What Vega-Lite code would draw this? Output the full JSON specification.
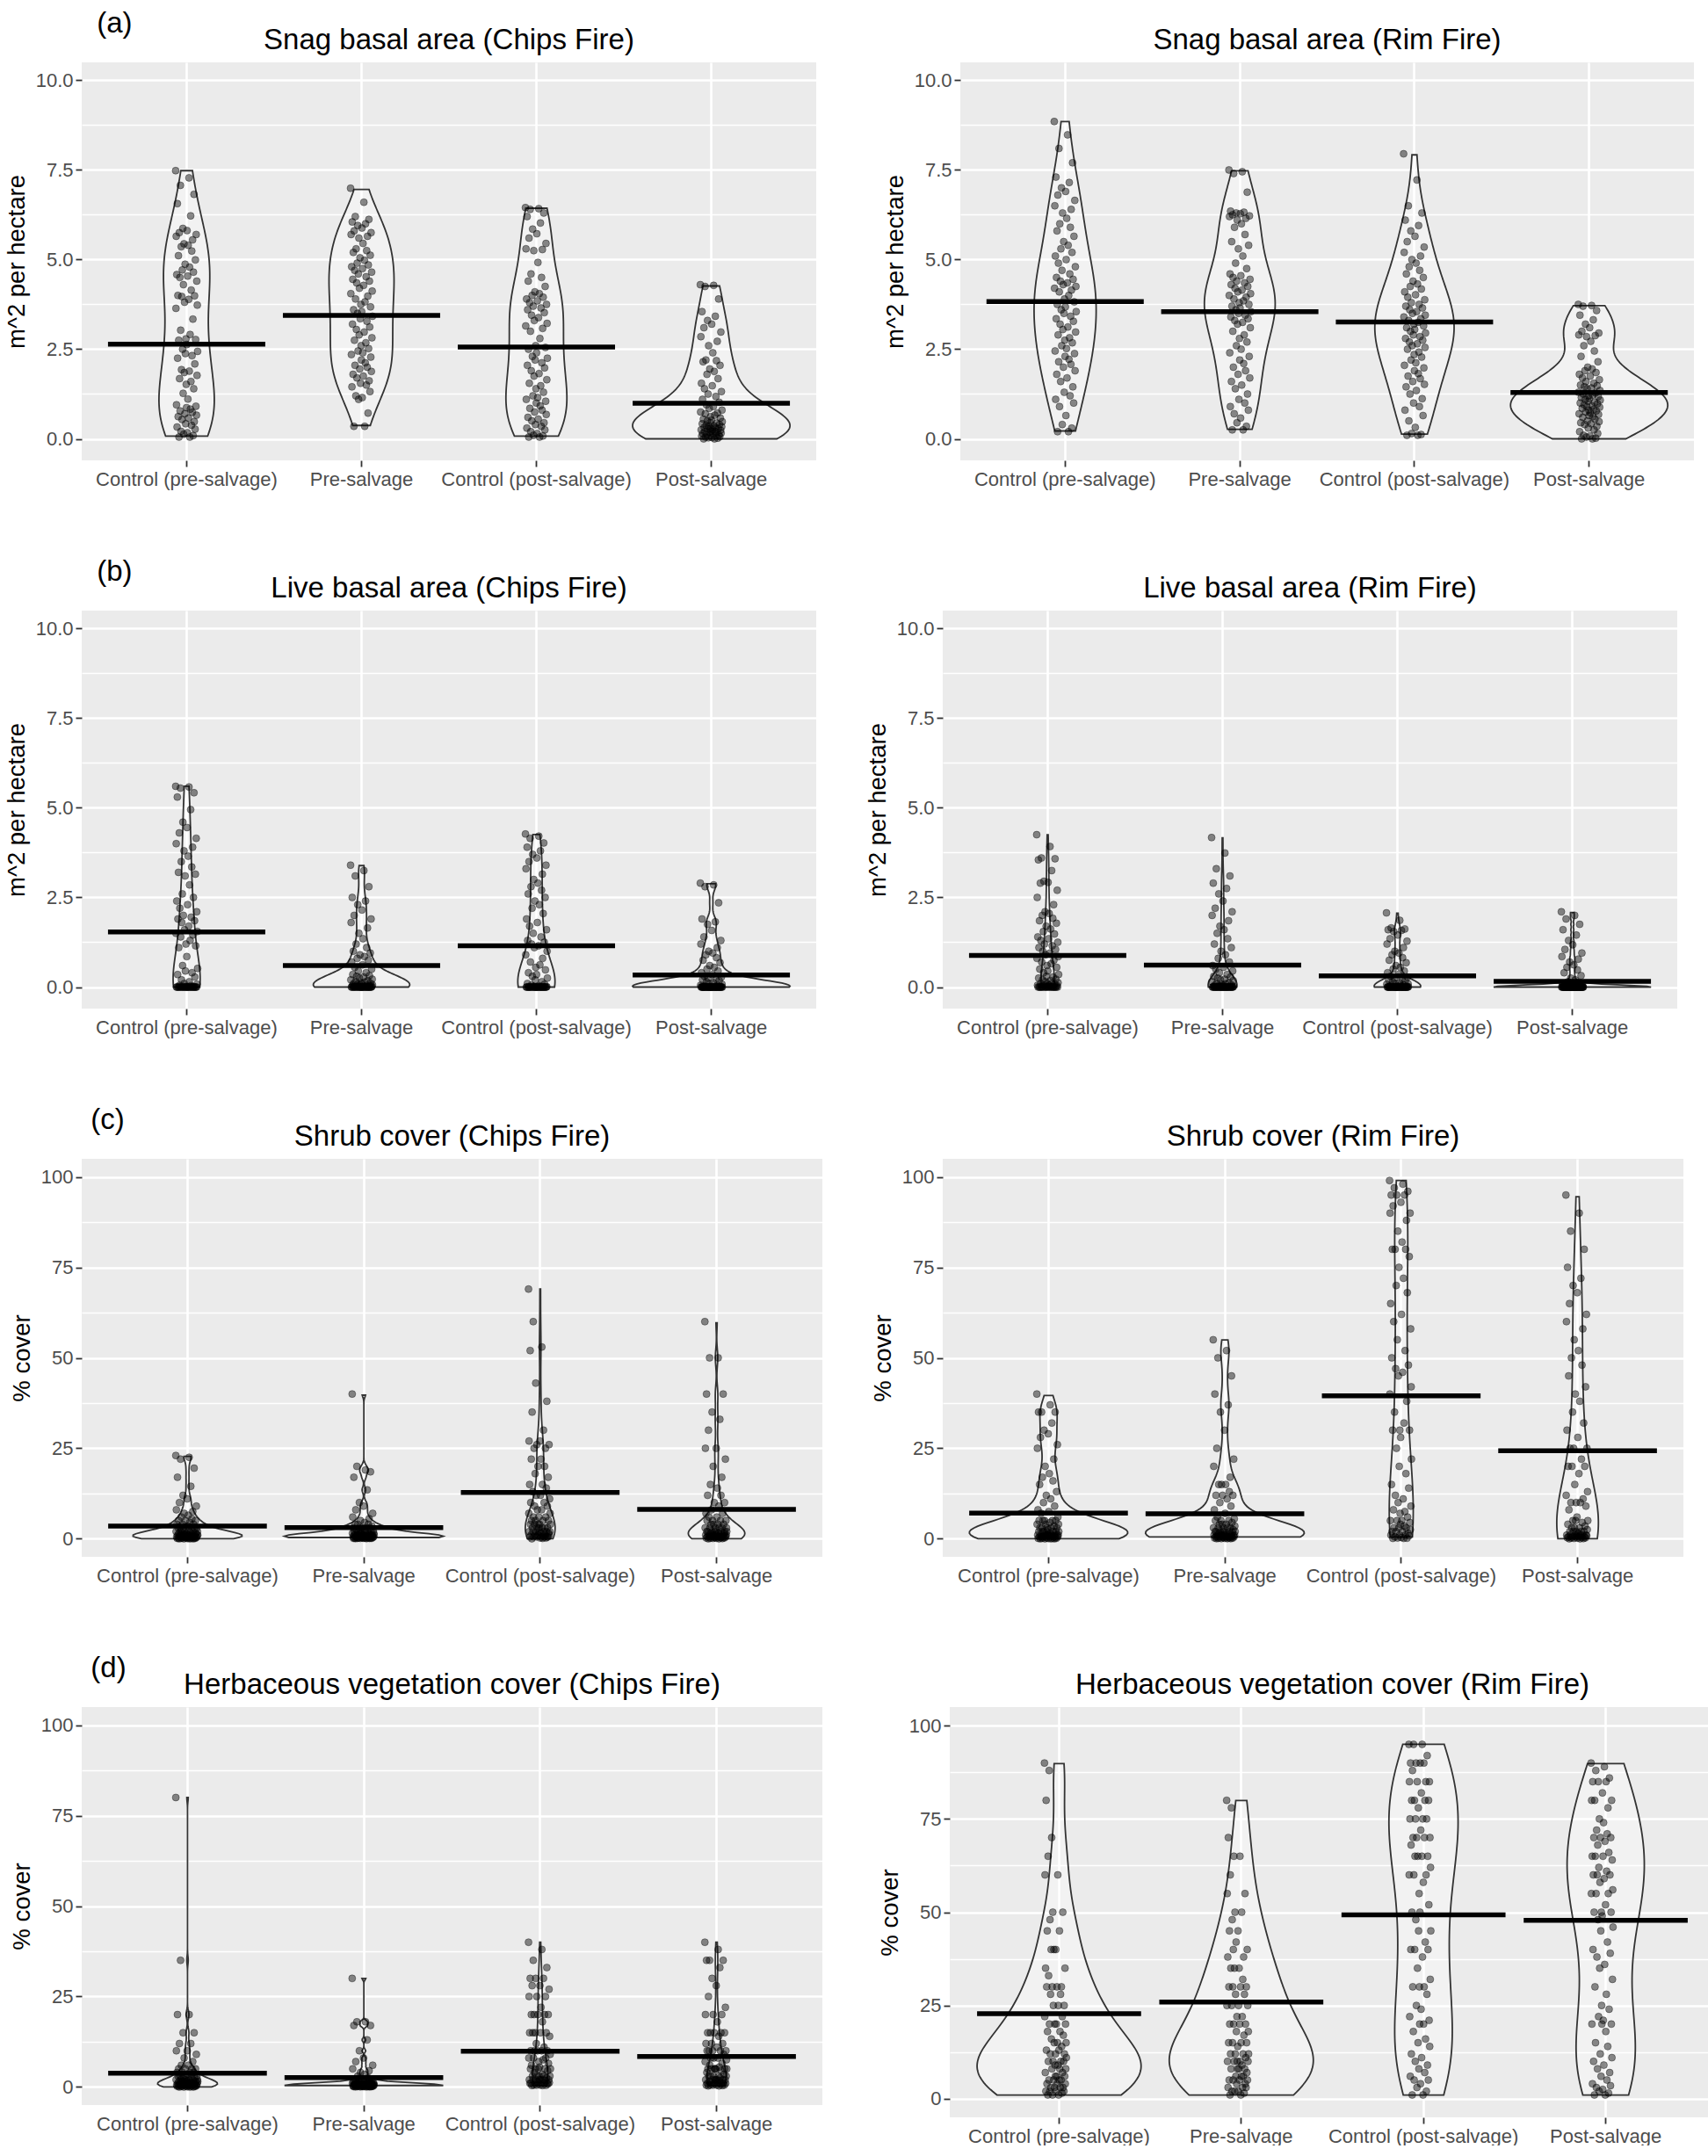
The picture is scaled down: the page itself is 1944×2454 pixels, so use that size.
{
"$schema": "https://vega.github.io/schema/vega-lite/v6.json",
"background": "white",
"padding": {"left": 5, "top": 11, "right": 0, "bottom": 0},
"config": {
 "font": "Liberation Sans",
 "view": {"fill": "#EBEBEB", "stroke": null},
 "axis": {"domain": false, "labelColor": "#4D4D4D", "labelFontSize": 22, "labelFont": "Liberation Sans", "tickColor": "#333333", "tickSize": 7, "tickWidth": 1.8, "gridColor": "#FFFFFF", "titleFont": "Liberation Sans", "titleFontSize": 27.5, "titleFontWeight": "normal", "titleColor": "#000000", "labelPadding": 3, "titlePadding": 7},
 "title": {"font": "Liberation Sans", "fontSize": 33, "fontWeight": "normal", "color": "#000000", "offset": 8}
},
"datasets": {
"a1": [
{"g":1,"v":7.48},{"g":1,"v":3.64},{"g":1,"v":5.65},{"g":1,"v":0.95},{"g":1,"v":4.58},{"g":1,"v":0.33},{"g":1,"v":6.56},{"g":1,"v":2.25},{"g":1,"v":4.0},{"g":1,"v":0.62},{"g":1,"v":5.11},{"g":1,"v":2.75},{"g":1,"v":0.05},{"g":1,"v":5.75},{"g":1,"v":1.68},{"g":1,"v":4.5},{"g":1,"v":0.78},{"g":1,"v":7.07},{"g":1,"v":3.03},{"g":1,"v":0.21},{"g":1,"v":5.36},{"g":1,"v":1.93},{"g":1,"v":3.97},{"g":1,"v":0.54},{"g":1,"v":4.71},{"g":1,"v":2.5},{"g":1,"v":5.87},{"g":1,"v":1.27},{"g":1,"v":4.3},{"g":1,"v":0.13},{"g":1,"v":5.44},{"g":1,"v":1.85},{"g":1,"v":3.81},{"g":1,"v":0.7},{"g":1,"v":4.87},{"g":1,"v":2.38},{"g":1,"v":0.42},{"g":1,"v":2.79},{"g":1,"v":1.52},{"g":1,"v":0.87},
{"g":2,"v":6.99},{"g":2,"v":4.05},{"g":2,"v":5.7},{"g":2,"v":2.35},{"g":2,"v":4.8},{"g":2,"v":1.45},{"g":2,"v":6.05},{"g":2,"v":3.2},{"g":2,"v":4.45},{"g":2,"v":1.8},{"g":2,"v":5.2},{"g":2,"v":3.6},{"g":2,"v":0.35},{"g":2,"v":5.8},{"g":2,"v":2.75},{"g":2,"v":4.7},{"g":2,"v":2.05},{"g":2,"v":6.2},{"g":2,"v":3.9},{"g":2,"v":1.2},{"g":2,"v":5.3},{"g":2,"v":3.05},{"g":2,"v":4.35},{"g":2,"v":1.7},{"g":2,"v":4.9},{"g":2,"v":3.5},{"g":2,"v":5.95},{"g":2,"v":2.45},{"g":2,"v":4.6},{"g":2,"v":1.1},{"g":2,"v":5.6},{"g":2,"v":2.9},{"g":2,"v":4.2},{"g":2,"v":1.95},{"g":2,"v":5.05},{"g":2,"v":3.35},{"g":2,"v":1.55},{"g":2,"v":3.75},{"g":2,"v":2.6},{"g":2,"v":2.2},
{"g":3,"v":6.45},{"g":3,"v":3.15},{"g":3,"v":5.3},{"g":3,"v":1.1},{"g":3,"v":3.9},{"g":3,"v":0.3},{"g":3,"v":6.2},{"g":3,"v":2.05},{"g":3,"v":3.6},{"g":3,"v":0.6},{"g":3,"v":4.4},{"g":3,"v":2.5},{"g":3,"v":0.05},{"g":3,"v":5.6},{"g":3,"v":1.55},{"g":3,"v":3.8},{"g":3,"v":0.85},{"g":3,"v":6.4},{"g":3,"v":3.0},{"g":3,"v":0.2},{"g":3,"v":4.6},{"g":3,"v":1.9},{"g":3,"v":3.45},{"g":3,"v":0.5},{"g":3,"v":4.0},{"g":3,"v":2.3},{"g":3,"v":5.85},{"g":3,"v":1.2},{"g":3,"v":3.7},{"g":3,"v":0.1},{"g":3,"v":5.25},{"g":3,"v":1.75},{"g":3,"v":3.3},{"g":3,"v":0.75},{"g":3,"v":4.1},{"g":3,"v":2.2},{"g":3,"v":0.4},{"g":3,"v":2.6},{"g":3,"v":1.4},{"g":3,"v":1.0},
{"g":4,"v":4.3},{"g":4,"v":0.75},{"g":4,"v":2.85},{"g":4,"v":0.25},{"g":4,"v":1.55},{"g":4,"v":0.08},{"g":4,"v":3.55},{"g":4,"v":0.42},{"g":4,"v":1.1},{"g":4,"v":0.15},{"g":4,"v":2.15},{"g":4,"v":0.55},{"g":4,"v":0.0},{"g":4,"v":3.1},{"g":4,"v":0.32},{"g":4,"v":1.4},{"g":4,"v":0.2},{"g":4,"v":4.25},{"g":4,"v":0.7},{"g":4,"v":0.05},{"g":4,"v":2.2},{"g":4,"v":0.38},{"g":4,"v":0.95},{"g":4,"v":0.12},{"g":4,"v":1.8},{"g":4,"v":0.5},{"g":4,"v":3.3},{"g":4,"v":0.28},{"g":4,"v":1.25},{"g":4,"v":0.03},{"g":4,"v":2.6},{"g":4,"v":0.35},{"g":4,"v":0.85},{"g":4,"v":0.18},{"g":4,"v":1.95},{"g":4,"v":0.45},{"g":4,"v":0.1},{"g":4,"v":0.62},{"g":4,"v":0.3},{"g":4,"v":0.22},
{"g":1,"v":2.63},{"g":1,"v":5.81},{"g":1,"v":0.17},{"g":1,"v":4.54},{"g":1,"v":1.11},{"g":1,"v":5.4},{"g":1,"v":0.58},{"g":1,"v":3.89},{"g":1,"v":7.28},{"g":1,"v":1.89},{"g":1,"v":4.79},{"g":1,"v":0.05},{"g":1,"v":2.91},{"g":1,"v":0.83},{"g":1,"v":6.22},{"g":1,"v":1.6},{"g":1,"v":4.15},{"g":1,"v":0.38},{"g":1,"v":5.24},{"g":1,"v":2.32},{"g":1,"v":0.74},{"g":1,"v":5.55},{"g":1,"v":3.34},{"g":1,"v":0.09},{"g":1,"v":4.65},{"g":1,"v":1.4},{"g":1,"v":6.82},{"g":1,"v":0.48},{"g":1,"v":3.99},{"g":1,"v":2.09},{"g":1,"v":0.27},{"g":1,"v":4.99},{"g":1,"v":2.77},{"g":1,"v":0.91},{"g":1,"v":5.7},{"g":1,"v":0.66},{"g":1,"v":4.4},{"g":1,"v":1.77},{"g":1,"v":3.73},{"g":1,"v":2.44},
{"g":2,"v":3.55},{"g":2,"v":5.88},{"g":2,"v":1.15},{"g":2,"v":4.75},{"g":2,"v":2.4},{"g":2,"v":5.45},{"g":2,"v":1.75},{"g":2,"v":4.28},{"g":2,"v":6.6},{"g":2,"v":2.98},{"g":2,"v":4.98},{"g":2,"v":0.35},{"g":2,"v":3.82},{"g":2,"v":2.12},{"g":2,"v":6.0},{"g":2,"v":2.68},{"g":2,"v":4.52},{"g":2,"v":1.5},{"g":2,"v":5.25},{"g":2,"v":3.28},{"g":2,"v":2.0},{"g":2,"v":5.65},{"g":2,"v":3.98},{"g":2,"v":0.72},{"g":2,"v":4.85},{"g":2,"v":2.52},{"g":2,"v":6.12},{"g":2,"v":1.62},{"g":2,"v":4.4},{"g":2,"v":3.12},{"g":2,"v":1.32},{"g":2,"v":5.12},{"g":2,"v":3.68},{"g":2,"v":2.28},{"g":2,"v":5.75},{"g":2,"v":1.88},{"g":2,"v":4.65},{"g":2,"v":2.82},{"g":2,"v":4.12},{"g":2,"v":3.42},
{"g":3,"v":2.4},{"g":3,"v":5.72},{"g":3,"v":0.15},{"g":3,"v":3.85},{"g":3,"v":1.15},{"g":3,"v":4.92},{"g":3,"v":0.55},{"g":3,"v":3.38},{"g":3,"v":6.42},{"g":3,"v":1.82},{"g":3,"v":4.05},{"g":3,"v":0.05},{"g":3,"v":2.8},{"g":3,"v":0.92},{"g":3,"v":6.02},{"g":3,"v":1.48},{"g":3,"v":3.65},{"g":3,"v":0.35},{"g":3,"v":4.5},{"g":3,"v":2.12},{"g":3,"v":0.8},{"g":3,"v":5.28},{"g":3,"v":3.08},{"g":3,"v":0.08},{"g":3,"v":3.95},{"g":3,"v":1.3},{"g":3,"v":6.3},{"g":3,"v":0.45},{"g":3,"v":3.52},{"g":3,"v":1.98},{"g":3,"v":0.25},{"g":3,"v":4.25},{"g":3,"v":2.55},{"g":3,"v":1.05},{"g":3,"v":5.45},{"g":3,"v":0.68},{"g":3,"v":3.75},{"g":3,"v":1.65},{"g":3,"v":3.22},{"g":3,"v":2.25},
{"g":4,"v":0.52},{"g":4,"v":3.2},{"g":4,"v":0.04},{"g":4,"v":1.48},{"g":4,"v":0.26},{"g":4,"v":2.4},{"g":4,"v":0.14},{"g":4,"v":0.9},{"g":4,"v":4.28},{"g":4,"v":0.36},{"g":4,"v":1.88},{"g":4,"v":0.0},{"g":4,"v":0.66},{"g":4,"v":0.21},{"g":4,"v":3.42},{"g":4,"v":0.31},{"g":4,"v":1.18},{"g":4,"v":0.09},{"g":4,"v":2.18},{"g":4,"v":0.44},{"g":4,"v":0.19},{"g":4,"v":2.72},{"g":4,"v":0.72},{"g":4,"v":0.02},{"g":4,"v":1.68},{"g":4,"v":0.29},{"g":4,"v":3.9},{"g":4,"v":0.11},{"g":4,"v":1.02},{"g":4,"v":0.4},{"g":4,"v":0.06},{"g":4,"v":2.05},{"g":4,"v":0.58},{"g":4,"v":0.24},{"g":4,"v":2.98},{"g":4,"v":0.16},{"g":4,"v":1.32},{"g":4,"v":0.34},{"g":4,"v":0.8},{"g":4,"v":0.48},
{"g":1,"m":2.64},{"g":2,"m":3.44},{"g":3,"m":2.56},{"g":4,"m":0.99}
],
"a2": [
{"g":1,"v":8.85},{"g":1,"v":4.2},{"g":1,"v":6.5},{"g":1,"v":2.45},{"g":1,"v":5.1},{"g":1,"v":1.1},{"g":1,"v":7.3},{"g":1,"v":3.35},{"g":1,"v":4.5},{"g":1,"v":1.8},{"g":1,"v":5.8},{"g":1,"v":3.75},{"g":1,"v":0.2},{"g":1,"v":6.8},{"g":1,"v":2.9},{"g":1,"v":4.9},{"g":1,"v":2.15},{"g":1,"v":8.1},{"g":1,"v":4.1},{"g":1,"v":0.9},{"g":1,"v":6.0},{"g":1,"v":3.2},{"g":1,"v":4.4},{"g":1,"v":1.6},{"g":1,"v":5.3},{"g":1,"v":3.6},{"g":1,"v":7.0},{"g":1,"v":2.6},{"g":1,"v":4.7},{"g":1,"v":0.4},{"g":1,"v":6.3},{"g":1,"v":3.05},{"g":1,"v":4.3},{"g":1,"v":2.0},{"g":1,"v":5.5},{"g":1,"v":3.5},{"g":1,"v":1.3},{"g":1,"v":3.9},{"g":1,"v":2.75},{"g":1,"v":2.3},
{"g":2,"v":7.5},{"g":2,"v":4.0},{"g":2,"v":6.2},{"g":2,"v":2.4},{"g":2,"v":4.6},{"g":2,"v":0.9},{"g":2,"v":6.35},{"g":2,"v":3.4},{"g":2,"v":4.3},{"g":2,"v":1.6},{"g":2,"v":5.5},{"g":2,"v":3.7},{"g":2,"v":0.25},{"g":2,"v":6.25},{"g":2,"v":3.0},{"g":2,"v":4.5},{"g":2,"v":2.0},{"g":2,"v":7.4},{"g":2,"v":3.9},{"g":2,"v":0.7},{"g":2,"v":5.9},{"g":2,"v":3.3},{"g":2,"v":4.2},{"g":2,"v":1.4},{"g":2,"v":4.9},{"g":2,"v":3.6},{"g":2,"v":6.3},{"g":2,"v":2.6},{"g":2,"v":4.4},{"g":2,"v":0.45},{"g":2,"v":6.1},{"g":2,"v":3.2},{"g":2,"v":4.1},{"g":2,"v":1.8},{"g":2,"v":5.3},{"g":2,"v":3.5},{"g":2,"v":1.1},{"g":2,"v":3.8},{"g":2,"v":2.8},{"g":2,"v":2.2},
{"g":3,"v":7.95},{"g":3,"v":3.4},{"g":3,"v":5.2},{"g":3,"v":2.05},{"g":3,"v":4.1},{"g":3,"v":0.8},{"g":3,"v":6.1},{"g":3,"v":2.8},{"g":3,"v":3.7},{"g":3,"v":1.45},{"g":3,"v":4.6},{"g":3,"v":3.1},{"g":3,"v":0.1},{"g":3,"v":5.5},{"g":3,"v":2.5},{"g":3,"v":3.95},{"g":3,"v":1.75},{"g":3,"v":6.5},{"g":3,"v":3.3},{"g":3,"v":0.5},{"g":3,"v":4.8},{"g":3,"v":2.7},{"g":3,"v":3.6},{"g":3,"v":1.25},{"g":3,"v":4.25},{"g":3,"v":3.0},{"g":3,"v":5.8},{"g":3,"v":2.2},{"g":3,"v":3.8},{"g":3,"v":0.15},{"g":3,"v":5.0},{"g":3,"v":2.6},{"g":3,"v":3.5},{"g":3,"v":1.6},{"g":3,"v":4.4},{"g":3,"v":2.9},{"g":3,"v":1.0},{"g":3,"v":3.2},{"g":3,"v":2.35},{"g":3,"v":1.9},
{"g":4,"v":3.75},{"g":4,"v":1.3},{"g":4,"v":2.9},{"g":4,"v":0.7},{"g":4,"v":1.8},{"g":4,"v":0.2},{"g":4,"v":3.45},{"g":4,"v":1.0},{"g":4,"v":1.5},{"g":4,"v":0.45},{"g":4,"v":2.3},{"g":4,"v":1.15},{"g":4,"v":0.0},{"g":4,"v":3.0},{"g":4,"v":0.85},{"g":4,"v":1.7},{"g":4,"v":0.6},{"g":4,"v":3.7},{"g":4,"v":1.25},{"g":4,"v":0.1},{"g":4,"v":2.6},{"g":4,"v":0.95},{"g":4,"v":1.45},{"g":4,"v":0.4},{"g":4,"v":1.9},{"g":4,"v":1.1},{"g":4,"v":3.2},{"g":4,"v":0.75},{"g":4,"v":1.6},{"g":4,"v":0.05},{"g":4,"v":2.85},{"g":4,"v":0.9},{"g":4,"v":1.4},{"g":4,"v":0.5},{"g":4,"v":2.0},{"g":4,"v":1.05},{"g":4,"v":0.3},{"g":4,"v":1.2},{"g":4,"v":0.8},{"g":4,"v":0.65},
{"g":1,"v":3.68},{"g":1,"v":6.9},{"g":1,"v":0.65},{"g":1,"v":5.0},{"g":1,"v":2.52},{"g":1,"v":6.15},{"g":1,"v":1.7},{"g":1,"v":4.35},{"g":1,"v":8.48},{"g":1,"v":3.12},{"g":1,"v":5.4},{"g":1,"v":0.2},{"g":1,"v":4.0},{"g":1,"v":2.22},{"g":1,"v":7.15},{"g":1,"v":2.82},{"g":1,"v":4.6},{"g":1,"v":1.2},{"g":1,"v":5.9},{"g":1,"v":3.42},{"g":1,"v":2.08},{"g":1,"v":6.4},{"g":1,"v":4.15},{"g":1,"v":0.3},{"g":1,"v":5.2},{"g":1,"v":2.68},{"g":1,"v":7.7},{"g":1,"v":1.45},{"g":1,"v":4.45},{"g":1,"v":3.28},{"g":1,"v":1.0},{"g":1,"v":5.65},{"g":1,"v":3.82},{"g":1,"v":2.38},{"g":1,"v":6.65},{"g":1,"v":1.9},{"g":1,"v":4.8},{"g":1,"v":2.98},{"g":1,"v":4.25},{"g":1,"v":3.55},
{"g":2,"v":3.65},{"g":2,"v":6.28},{"g":2,"v":0.58},{"g":2,"v":4.55},{"g":2,"v":2.5},{"g":2,"v":6.0},{"g":2,"v":1.5},{"g":2,"v":4.15},{"g":2,"v":7.45},{"g":2,"v":3.25},{"g":2,"v":5.1},{"g":2,"v":0.25},{"g":2,"v":3.85},{"g":2,"v":2.1},{"g":2,"v":6.32},{"g":2,"v":2.9},{"g":2,"v":4.35},{"g":2,"v":1.0},{"g":2,"v":5.7},{"g":2,"v":3.45},{"g":2,"v":1.9},{"g":2,"v":6.15},{"g":2,"v":3.95},{"g":2,"v":0.35},{"g":2,"v":4.75},{"g":2,"v":2.7},{"g":2,"v":6.88},{"g":2,"v":1.25},{"g":2,"v":4.25},{"g":2,"v":3.35},{"g":2,"v":0.8},{"g":2,"v":5.4},{"g":2,"v":3.75},{"g":2,"v":2.3},{"g":2,"v":6.22},{"g":2,"v":1.7},{"g":2,"v":4.45},{"g":2,"v":3.1},{"g":2,"v":4.05},{"g":2,"v":3.55},
{"g":3,"v":3.05},{"g":3,"v":5.65},{"g":3,"v":0.32},{"g":3,"v":4.02},{"g":3,"v":2.12},{"g":3,"v":4.9},{"g":3,"v":1.35},{"g":3,"v":3.55},{"g":3,"v":7.22},{"g":3,"v":2.65},{"g":3,"v":4.32},{"g":3,"v":0.1},{"g":3,"v":3.25},{"g":3,"v":1.82},{"g":3,"v":5.95},{"g":3,"v":2.42},{"g":3,"v":3.75},{"g":3,"v":0.9},{"g":3,"v":4.7},{"g":3,"v":2.85},{"g":3,"v":1.68},{"g":3,"v":5.1},{"g":3,"v":3.35},{"g":3,"v":0.12},{"g":3,"v":4.18},{"g":3,"v":2.28},{"g":3,"v":6.3},{"g":3,"v":1.12},{"g":3,"v":3.65},{"g":3,"v":2.75},{"g":3,"v":0.65},{"g":3,"v":4.5},{"g":3,"v":3.15},{"g":3,"v":1.98},{"g":3,"v":5.35},{"g":3,"v":1.52},{"g":3,"v":3.88},{"g":3,"v":2.55},{"g":3,"v":3.45},{"g":3,"v":2.95},
{"g":4,"v":1.12},{"g":4,"v":3.1},{"g":4,"v":0.08},{"g":4,"v":1.75},{"g":4,"v":0.72},{"g":4,"v":2.72},{"g":4,"v":0.42},{"g":4,"v":1.42},{"g":4,"v":3.72},{"g":4,"v":0.92},{"g":4,"v":1.95},{"g":4,"v":0.0},{"g":4,"v":1.22},{"g":4,"v":0.62},{"g":4,"v":3.32},{"g":4,"v":0.82},{"g":4,"v":1.55},{"g":4,"v":0.25},{"g":4,"v":2.45},{"g":4,"v":1.02},{"g":4,"v":0.55},{"g":4,"v":2.88},{"g":4,"v":1.28},{"g":4,"v":0.02},{"g":4,"v":1.85},{"g":4,"v":0.78},{"g":4,"v":3.58},{"g":4,"v":0.35},{"g":4,"v":1.48},{"g":4,"v":0.98},{"g":4,"v":0.15},{"g":4,"v":2.15},{"g":4,"v":1.18},{"g":4,"v":0.68},{"g":4,"v":2.95},{"g":4,"v":0.48},{"g":4,"v":1.65},{"g":4,"v":0.88},{"g":4,"v":1.35},{"g":4,"v":1.08},
{"g":1,"m":3.83},{"g":2,"m":3.55},{"g":3,"m":3.26},{"g":4,"m":1.29}
],
"b1": [
{"g":1,"v":5.6},{"g":1,"v":1.5},{"g":1,"v":4.0},{"g":1,"v":0},{"g":1,"v":2.4},{"g":1,"v":0},{"g":1,"v":5.3},{"g":1,"v":0.35},{"g":1,"v":1.9},{"g":1,"v":0},{"g":1,"v":3.2},{"g":1,"v":1.1},{"g":1,"v":0},{"g":1,"v":4.3},{"g":1,"v":0.05},{"g":1,"v":2.2},{"g":1,"v":0},{"g":1,"v":5.55},{"g":1,"v":1.4},{"g":1,"v":0},{"g":1,"v":3.5},{"g":1,"v":0.2},{"g":1,"v":1.8},{"g":1,"v":0},{"g":1,"v":2.6},{"g":1,"v":0.6},{"g":1,"v":4.6},{"g":1,"v":0},{"g":1,"v":2.0},{"g":1,"v":0},{"g":1,"v":3.8},{"g":1,"v":0.1},{"g":1,"v":1.6},{"g":1,"v":0},{"g":1,"v":3.1},{"g":1,"v":0.45},{"g":1,"v":0},{"g":1,"v":1.2},{"g":1,"v":0.02},{"g":1,"v":0},
{"g":2,"v":3.4},{"g":2,"v":0.2},{"g":2,"v":1.8},{"g":2,"v":0},{"g":2,"v":0.7},{"g":2,"v":0},{"g":2,"v":2.5},{"g":2,"v":0.05},{"g":2,"v":0.35},{"g":2,"v":0},{"g":2,"v":1.0},{"g":2,"v":0.1},{"g":2,"v":0},{"g":2,"v":2.0},{"g":2,"v":0.01},{"g":2,"v":0.55},{"g":2,"v":0},{"g":2,"v":3.1},{"g":2,"v":0.15},{"g":2,"v":0},{"g":2,"v":1.2},{"g":2,"v":0.03},{"g":2,"v":0.3},{"g":2,"v":0},{"g":2,"v":0.8},{"g":2,"v":0.08},{"g":2,"v":2.3},{"g":2,"v":0},{"g":2,"v":0.45},{"g":2,"v":0},{"g":2,"v":1.5},{"g":2,"v":0.02},{"g":2,"v":0.25},{"g":2,"v":0},{"g":2,"v":0.9},{"g":2,"v":0.05},{"g":2,"v":0},{"g":2,"v":0.12},{"g":2,"v":0},{"g":2,"v":0},
{"g":3,"v":4.27},{"g":3,"v":0.9},{"g":3,"v":3.3},{"g":3,"v":0},{"g":3,"v":1.9},{"g":3,"v":0},{"g":3,"v":3.9},{"g":3,"v":0.1},{"g":3,"v":1.3},{"g":3,"v":0},{"g":3,"v":2.6},{"g":3,"v":0.4},{"g":3,"v":0},{"g":3,"v":3.5},{"g":3,"v":0},{"g":3,"v":1.7},{"g":3,"v":0},{"g":3,"v":4.15},{"g":3,"v":0.7},{"g":3,"v":0},{"g":3,"v":2.8},{"g":3,"v":0.05},{"g":3,"v":1.2},{"g":3,"v":0},{"g":3,"v":2.2},{"g":3,"v":0.3},{"g":3,"v":3.7},{"g":3,"v":0},{"g":3,"v":1.5},{"g":3,"v":0},{"g":3,"v":3.0},{"g":3,"v":0.02},{"g":3,"v":1.1},{"g":3,"v":0},{"g":3,"v":2.4},{"g":3,"v":0.2},{"g":3,"v":0},{"g":3,"v":0.55},{"g":3,"v":0},{"g":3,"v":0},
{"g":4,"v":2.9},{"g":4,"v":0.05},{"g":4,"v":1.2},{"g":4,"v":0},{"g":4,"v":0.4},{"g":4,"v":0},{"g":4,"v":1.9},{"g":4,"v":0},{"g":4,"v":0.2},{"g":4,"v":0},{"g":4,"v":0.75},{"g":4,"v":0},{"g":4,"v":0},{"g":4,"v":1.4},{"g":4,"v":0},{"g":4,"v":0.3},{"g":4,"v":0},{"g":4,"v":2.8},{"g":4,"v":0.03},{"g":4,"v":0},{"g":4,"v":0.9},{"g":4,"v":0},{"g":4,"v":0.15},{"g":4,"v":0},{"g":4,"v":0.5},{"g":4,"v":0},{"g":4,"v":1.75},{"g":4,"v":0},{"g":4,"v":0.25},{"g":4,"v":0},{"g":4,"v":1.0},{"g":4,"v":0},{"g":4,"v":0.1},{"g":4,"v":0},{"g":4,"v":0.6},{"g":4,"v":0},{"g":4,"v":0},{"g":4,"v":0.02},{"g":4,"v":0},{"g":4,"v":0},
{"g":1,"v":0.85},{"g":1,"v":4.45},{"g":1,"v":0},{"g":1,"v":2.3},{"g":1,"v":0},{"g":1,"v":3.65},{"g":1,"v":0},{"g":1,"v":1.7},{"g":1,"v":5.58},{"g":1,"v":0.15},{"g":1,"v":2.85},{"g":1,"v":0},{"g":1,"v":1.3},{"g":1,"v":0},{"g":1,"v":4.95},{"g":1,"v":0.04},{"g":1,"v":1.95},{"g":1,"v":0},{"g":1,"v":3.35},{"g":1,"v":0.4},{"g":1,"v":0},{"g":1,"v":3.9},{"g":1,"v":1.45},{"g":1,"v":0},{"g":1,"v":2.5},{"g":1,"v":0.01},{"g":1,"v":5.42},{"g":1,"v":0},{"g":1,"v":1.85},{"g":1,"v":0.28},{"g":1,"v":0},{"g":1,"v":3.15},{"g":1,"v":1.15},{"g":1,"v":0},{"g":1,"v":4.15},{"g":1,"v":0},{"g":1,"v":2.1},{"g":1,"v":0.08},{"g":1,"v":1.55},{"g":1,"v":0.52},
{"g":2,"v":0.09},{"g":2,"v":2.15},{"g":2,"v":0},{"g":2,"v":0.62},{"g":2,"v":0},{"g":2,"v":1.35},{"g":2,"v":0},{"g":2,"v":0.28},{"g":2,"v":3.25},{"g":2,"v":0.02},{"g":2,"v":0.85},{"g":2,"v":0},{"g":2,"v":0.14},{"g":2,"v":0},{"g":2,"v":2.4},{"g":2,"v":0.01},{"g":2,"v":0.4},{"g":2,"v":0},{"g":2,"v":1.1},{"g":2,"v":0.05},{"g":2,"v":0},{"g":2,"v":1.65},{"g":2,"v":0.18},{"g":2,"v":0},{"g":2,"v":0.75},{"g":2,"v":0},{"g":2,"v":2.8},{"g":2,"v":0},{"g":2,"v":0.32},{"g":2,"v":0.04},{"g":2,"v":0},{"g":2,"v":0.95},{"g":2,"v":0.11},{"g":2,"v":0},{"g":2,"v":1.9},{"g":2,"v":0},{"g":2,"v":0.5},{"g":2,"v":0.02},{"g":2,"v":0.22},{"g":2,"v":0.06},
{"g":3,"v":0.35},{"g":3,"v":3.6},{"g":3,"v":0},{"g":3,"v":1.8},{"g":3,"v":0},{"g":3,"v":2.9},{"g":3,"v":0},{"g":3,"v":1.15},{"g":3,"v":4.21},{"g":3,"v":0.04},{"g":3,"v":2.3},{"g":3,"v":0},{"g":3,"v":0.62},{"g":3,"v":0},{"g":3,"v":3.8},{"g":3,"v":0},{"g":3,"v":1.4},{"g":3,"v":0},{"g":3,"v":2.7},{"g":3,"v":0.15},{"g":3,"v":0},{"g":3,"v":3.15},{"g":3,"v":0.8},{"g":3,"v":0},{"g":3,"v":2.05},{"g":3,"v":0},{"g":3,"v":4.02},{"g":3,"v":0},{"g":3,"v":1.25},{"g":3,"v":0.08},{"g":3,"v":0},{"g":3,"v":2.5},{"g":3,"v":0.48},{"g":3,"v":0},{"g":3,"v":3.4},{"g":3,"v":0},{"g":3,"v":1.6},{"g":3,"v":0.01},{"g":3,"v":1.0},{"g":3,"v":0.25},
{"g":4,"v":0},{"g":4,"v":1.58},{"g":4,"v":0},{"g":4,"v":0.35},{"g":4,"v":0},{"g":4,"v":0.95},{"g":4,"v":0},{"g":4,"v":0.12},{"g":4,"v":2.85},{"g":4,"v":0},{"g":4,"v":0.55},{"g":4,"v":0},{"g":4,"v":0.02},{"g":4,"v":0},{"g":4,"v":1.82},{"g":4,"v":0},{"g":4,"v":0.22},{"g":4,"v":0},{"g":4,"v":0.82},{"g":4,"v":0},{"g":4,"v":0},{"g":4,"v":1.1},{"g":4,"v":0.04},{"g":4,"v":0},{"g":4,"v":0.45},{"g":4,"v":0},{"g":4,"v":2.35},{"g":4,"v":0},{"g":4,"v":0.18},{"g":4,"v":0},{"g":4,"v":0},{"g":4,"v":0.68},{"g":4,"v":0.01},{"g":4,"v":0},{"g":4,"v":1.3},{"g":4,"v":0},{"g":4,"v":0.28},{"g":4,"v":0},{"g":4,"v":0.08},{"g":4,"v":0},
{"g":1,"m":1.54},{"g":2,"m":0.6},{"g":3,"m":1.15},{"g":4,"m":0.34}
],
"b2": [
{"g":1,"v":4.25},{"g":1,"v":0.8},{"g":1,"v":2.5},{"g":1,"v":0.05},{"g":1,"v":1.4},{"g":1,"v":0},{"g":1,"v":3.55},{"g":1,"v":0.25},{"g":1,"v":1.1},{"g":1,"v":0},{"g":1,"v":1.85},{"g":1,"v":0.5},{"g":1,"v":0},{"g":1,"v":2.9},{"g":1,"v":0.1},{"g":1,"v":1.3},{"g":1,"v":0},{"g":1,"v":3.6},{"g":1,"v":0.7},{"g":1,"v":0},{"g":1,"v":2.0},{"g":1,"v":0.2},{"g":1,"v":1.0},{"g":1,"v":0},{"g":1,"v":1.55},{"g":1,"v":0.4},{"g":1,"v":2.95},{"g":1,"v":0.05},{"g":1,"v":1.2},{"g":1,"v":0},{"g":1,"v":2.1},{"g":1,"v":0.15},{"g":1,"v":0.9},{"g":1,"v":0},{"g":1,"v":1.7},{"g":1,"v":0.3},{"g":1,"v":0},{"g":1,"v":0.6},{"g":1,"v":0.1},{"g":1,"v":0.02},
{"g":2,"v":4.17},{"g":2,"v":0.15},{"g":2,"v":2.0},{"g":2,"v":0},{"g":2,"v":0.6},{"g":2,"v":0},{"g":2,"v":2.9},{"g":2,"v":0.01},{"g":2,"v":0.3},{"g":2,"v":0},{"g":2,"v":1.2},{"g":2,"v":0.05},{"g":2,"v":0},{"g":2,"v":2.2},{"g":2,"v":0},{"g":2,"v":0.5},{"g":2,"v":0},{"g":2,"v":3.3},{"g":2,"v":0.1},{"g":2,"v":0},{"g":2,"v":1.5},{"g":2,"v":0},{"g":2,"v":0.25},{"g":2,"v":0},{"g":2,"v":0.8},{"g":2,"v":0.03},{"g":2,"v":2.6},{"g":2,"v":0},{"g":2,"v":0.4},{"g":2,"v":0},{"g":2,"v":1.7},{"g":2,"v":0},{"g":2,"v":0.2},{"g":2,"v":0},{"g":2,"v":1.0},{"g":2,"v":0.02},{"g":2,"v":0},{"g":2,"v":0.08},{"g":2,"v":0},{"g":2,"v":0},
{"g":3,"v":2.07},{"g":3,"v":0.08},{"g":3,"v":1.2},{"g":3,"v":0},{"g":3,"v":0.4},{"g":3,"v":0},{"g":3,"v":1.6},{"g":3,"v":0},{"g":3,"v":0.2},{"g":3,"v":0},{"g":3,"v":0.75},{"g":3,"v":0.02},{"g":3,"v":0},{"g":3,"v":1.35},{"g":3,"v":0},{"g":3,"v":0.3},{"g":3,"v":0},{"g":3,"v":1.65},{"g":3,"v":0.05},{"g":3,"v":0},{"g":3,"v":0.9},{"g":3,"v":0},{"g":3,"v":0.15},{"g":3,"v":0},{"g":3,"v":0.5},{"g":3,"v":0.01},{"g":3,"v":1.55},{"g":3,"v":0},{"g":3,"v":0.25},{"g":3,"v":0},{"g":3,"v":1.0},{"g":3,"v":0},{"g":3,"v":0.1},{"g":3,"v":0},{"g":3,"v":0.6},{"g":3,"v":0},{"g":3,"v":0},{"g":3,"v":0.03},{"g":3,"v":0},{"g":3,"v":0},
{"g":4,"v":2.1},{"g":4,"v":0},{"g":4,"v":0.85},{"g":4,"v":0},{"g":4,"v":0.1},{"g":4,"v":0},{"g":4,"v":1.6},{"g":4,"v":0},{"g":4,"v":0.01},{"g":4,"v":0},{"g":4,"v":0.4},{"g":4,"v":0},{"g":4,"v":0},{"g":4,"v":1.05},{"g":4,"v":0},{"g":4,"v":0.05},{"g":4,"v":0},{"g":4,"v":1.9},{"g":4,"v":0},{"g":4,"v":0},{"g":4,"v":0.55},{"g":4,"v":0},{"g":4,"v":0},{"g":4,"v":0},{"g":4,"v":0.15},{"g":4,"v":0},{"g":4,"v":1.3},{"g":4,"v":0},{"g":4,"v":0.02},{"g":4,"v":0},{"g":4,"v":0.7},{"g":4,"v":0},{"g":4,"v":0},{"g":4,"v":0},{"g":4,"v":0.25},{"g":4,"v":0},{"g":4,"v":0},{"g":4,"v":0},{"g":4,"v":0},{"g":4,"v":0},
{"g":1,"v":0.45},{"g":1,"v":2.92},{"g":1,"v":0},{"g":1,"v":1.35},{"g":1,"v":0.05},{"g":1,"v":2.05},{"g":1,"v":0},{"g":1,"v":0.95},{"g":1,"v":3.92},{"g":1,"v":0.18},{"g":1,"v":1.62},{"g":1,"v":0},{"g":1,"v":0.65},{"g":1,"v":0.01},{"g":1,"v":3.25},{"g":1,"v":0.1},{"g":1,"v":1.15},{"g":1,"v":0},{"g":1,"v":1.92},{"g":1,"v":0.28},{"g":1,"v":0},{"g":1,"v":2.3},{"g":1,"v":0.75},{"g":1,"v":0},{"g":1,"v":1.48},{"g":1,"v":0.08},{"g":1,"v":3.58},{"g":1,"v":0},{"g":1,"v":1.05},{"g":1,"v":0.22},{"g":1,"v":0},{"g":1,"v":1.78},{"g":1,"v":0.55},{"g":1,"v":0.04},{"g":1,"v":2.7},{"g":1,"v":0},{"g":1,"v":1.25},{"g":1,"v":0.12},{"g":1,"v":0.85},{"g":1,"v":0.35},
{"g":2,"v":0.04},{"g":2,"v":2.4},{"g":2,"v":0},{"g":2,"v":0.55},{"g":2,"v":0},{"g":2,"v":1.6},{"g":2,"v":0},{"g":2,"v":0.22},{"g":2,"v":3.74},{"g":2,"v":0},{"g":2,"v":0.9},{"g":2,"v":0},{"g":2,"v":0.09},{"g":2,"v":0},{"g":2,"v":2.75},{"g":2,"v":0},{"g":2,"v":0.35},{"g":2,"v":0},{"g":2,"v":1.35},{"g":2,"v":0.01},{"g":2,"v":0},{"g":2,"v":1.85},{"g":2,"v":0.12},{"g":2,"v":0},{"g":2,"v":0.7},{"g":2,"v":0},{"g":2,"v":3.1},{"g":2,"v":0},{"g":2,"v":0.28},{"g":2,"v":0.01},{"g":2,"v":0},{"g":2,"v":1.1},{"g":2,"v":0.06},{"g":2,"v":0},{"g":2,"v":2.1},{"g":2,"v":0},{"g":2,"v":0.45},{"g":2,"v":0},{"g":2,"v":0.18},{"g":2,"v":0.02},
{"g":3,"v":0.01},{"g":3,"v":1.45},{"g":3,"v":0},{"g":3,"v":0.35},{"g":3,"v":0},{"g":3,"v":0.95},{"g":3,"v":0},{"g":3,"v":0.12},{"g":3,"v":1.86},{"g":3,"v":0},{"g":3,"v":0.55},{"g":3,"v":0},{"g":3,"v":0.04},{"g":3,"v":0},{"g":3,"v":1.58},{"g":3,"v":0},{"g":3,"v":0.22},{"g":3,"v":0},{"g":3,"v":0.82},{"g":3,"v":0},{"g":3,"v":0},{"g":3,"v":1.1},{"g":3,"v":0.06},{"g":3,"v":0},{"g":3,"v":0.45},{"g":3,"v":0},{"g":3,"v":1.62},{"g":3,"v":0},{"g":3,"v":0.18},{"g":3,"v":0},{"g":3,"v":0},{"g":3,"v":0.68},{"g":3,"v":0.02},{"g":3,"v":0},{"g":3,"v":1.28},{"g":3,"v":0},{"g":3,"v":0.28},{"g":3,"v":0},{"g":3,"v":0.09},{"g":3,"v":0.01},
{"g":4,"v":0},{"g":4,"v":1.18},{"g":4,"v":0},{"g":4,"v":0.08},{"g":4,"v":0},{"g":4,"v":0.62},{"g":4,"v":0},{"g":4,"v":0},{"g":4,"v":2.0},{"g":4,"v":0},{"g":4,"v":0.2},{"g":4,"v":0},{"g":4,"v":0},{"g":4,"v":0},{"g":4,"v":1.45},{"g":4,"v":0},{"g":4,"v":0.02},{"g":4,"v":0},{"g":4,"v":0.48},{"g":4,"v":0},{"g":4,"v":0},{"g":4,"v":0.78},{"g":4,"v":0},{"g":4,"v":0},{"g":4,"v":0.12},{"g":4,"v":0},{"g":4,"v":1.75},{"g":4,"v":0},{"g":4,"v":0.01},{"g":4,"v":0},{"g":4,"v":0},{"g":4,"v":0.32},{"g":4,"v":0},{"g":4,"v":0},{"g":4,"v":0.95},{"g":4,"v":0},{"g":4,"v":0.04},{"g":4,"v":0},{"g":4,"v":0},{"g":4,"v":0},
{"g":1,"m":0.88},{"g":2,"m":0.61},{"g":3,"m":0.31},{"g":4,"m":0.16}
],
"c1": [
{"g":1,"v":23},{"g":1,"v":2},{"g":1,"v":8},{"g":1,"v":0.5},{"g":1,"v":4},{"g":1,"v":0.1},{"g":1,"v":17},{"g":1,"v":1},{"g":1,"v":3},{"g":1,"v":0.2},{"g":1,"v":5},{"g":1,"v":1.5},{"g":1,"v":0},{"g":1,"v":10},{"g":1,"v":1},{"g":1,"v":3},{"g":1,"v":0.5},{"g":1,"v":22},{"g":1,"v":2},{"g":1,"v":0.1},{"g":1,"v":6},{"g":1,"v":1},{"g":1,"v":2.5},{"g":1,"v":0.2},{"g":1,"v":4},{"g":1,"v":1},{"g":1,"v":12},{"g":1,"v":0.5},{"g":1,"v":3},{"g":1,"v":0},{"g":1,"v":7},{"g":1,"v":1},{"g":1,"v":2},{"g":1,"v":0.5},{"g":1,"v":5},{"g":1,"v":1},{"g":1,"v":0.2},{"g":1,"v":1.5},{"g":1,"v":0.5},{"g":1,"v":0.5},
{"g":2,"v":40},{"g":2,"v":1.5},{"g":2,"v":6},{"g":2,"v":0.5},{"g":2,"v":3},{"g":2,"v":0.1},{"g":2,"v":17},{"g":2,"v":1},{"g":2,"v":2},{"g":2,"v":0.2},{"g":2,"v":4},{"g":2,"v":1},{"g":2,"v":0.05},{"g":2,"v":8},{"g":2,"v":0.5},{"g":2,"v":2.5},{"g":2,"v":0.5},{"g":2,"v":20},{"g":2,"v":1},{"g":2,"v":0.1},{"g":2,"v":4},{"g":2,"v":1},{"g":2,"v":2},{"g":2,"v":0.2},{"g":2,"v":3},{"g":2,"v":1},{"g":2,"v":10},{"g":2,"v":0.5},{"g":2,"v":2},{"g":2,"v":0.1},{"g":2,"v":5},{"g":2,"v":0.5},{"g":2,"v":1.5},{"g":2,"v":0.5},{"g":2,"v":3},{"g":2,"v":1},{"g":2,"v":0.2},{"g":2,"v":1},{"g":2,"v":0.5},{"g":2,"v":0.5},
{"g":3,"v":69},{"g":3,"v":7},{"g":3,"v":27},{"g":3,"v":2},{"g":3,"v":15},{"g":3,"v":0.5},{"g":3,"v":52},{"g":3,"v":4},{"g":3,"v":10},{"g":3,"v":1},{"g":3,"v":22},{"g":3,"v":5},{"g":3,"v":0},{"g":3,"v":35},{"g":3,"v":3},{"g":3,"v":13},{"g":3,"v":2},{"g":3,"v":60},{"g":3,"v":6},{"g":3,"v":0.5},{"g":3,"v":25},{"g":3,"v":4},{"g":3,"v":9},{"g":3,"v":1},{"g":3,"v":18},{"g":3,"v":5},{"g":3,"v":43},{"g":3,"v":2},{"g":3,"v":12},{"g":3,"v":0.5},{"g":3,"v":26},{"g":3,"v":3},{"g":3,"v":8},{"g":3,"v":1},{"g":3,"v":20},{"g":3,"v":4},{"g":3,"v":1},{"g":3,"v":6},{"g":3,"v":3},{"g":3,"v":2},
{"g":4,"v":60},{"g":4,"v":3},{"g":4,"v":25},{"g":4,"v":1},{"g":4,"v":7},{"g":4,"v":0.2},{"g":4,"v":40},{"g":4,"v":2},{"g":4,"v":5},{"g":4,"v":0.5},{"g":4,"v":12},{"g":4,"v":2},{"g":4,"v":0},{"g":4,"v":30},{"g":4,"v":1},{"g":4,"v":6},{"g":4,"v":0.5},{"g":4,"v":50},{"g":4,"v":3},{"g":4,"v":0.1},{"g":4,"v":15},{"g":4,"v":1.5},{"g":4,"v":4},{"g":4,"v":0.5},{"g":4,"v":8},{"g":4,"v":2},{"g":4,"v":35},{"g":4,"v":1},{"g":4,"v":5},{"g":4,"v":0.1},{"g":4,"v":20},{"g":4,"v":1},{"g":4,"v":4},{"g":4,"v":0.5},{"g":4,"v":10},{"g":4,"v":2},{"g":4,"v":0.3},{"g":4,"v":3},{"g":4,"v":1},{"g":4,"v":0.5},
{"g":1,"v":1.2},{"g":1,"v":11},{"g":1,"v":0.05},{"g":1,"v":3.5},{"g":1,"v":0.5},{"g":1,"v":6.5},{"g":1,"v":0.2},{"g":1,"v":2.2},{"g":1,"v":22.5},{"g":1,"v":1},{"g":1,"v":4.5},{"g":1,"v":0},{"g":1,"v":1.8},{"g":1,"v":0.5},{"g":1,"v":14.5},{"g":1,"v":0.8},{"g":1,"v":3},{"g":1,"v":0.15},{"g":1,"v":5.5},{"g":1,"v":1},{"g":1,"v":0.5},{"g":1,"v":7.5},{"g":1,"v":2},{"g":1,"v":0},{"g":1,"v":4},{"g":1,"v":0.5},{"g":1,"v":19.5},{"g":1,"v":0.2},{"g":1,"v":2.8},{"g":1,"v":1},{"g":1,"v":0.1},{"g":1,"v":5},{"g":1,"v":1.5},{"g":1,"v":0.5},{"g":1,"v":9},{"g":1,"v":0.4},{"g":1,"v":3},{"g":1,"v":1},{"g":1,"v":2},{"g":1,"v":1},
{"g":2,"v":1},{"g":2,"v":9},{"g":2,"v":0.1},{"g":2,"v":2.8},{"g":2,"v":0.5},{"g":2,"v":4.5},{"g":2,"v":0.2},{"g":2,"v":1.8},{"g":2,"v":19},{"g":2,"v":0.8},{"g":2,"v":3},{"g":2,"v":0.05},{"g":2,"v":1},{"g":2,"v":0.5},{"g":2,"v":13.5},{"g":2,"v":0.5},{"g":2,"v":2},{"g":2,"v":0.15},{"g":2,"v":4},{"g":2,"v":1},{"g":2,"v":0.5},{"g":2,"v":5.5},{"g":2,"v":1.2},{"g":2,"v":0.08},{"g":2,"v":3},{"g":2,"v":0.5},{"g":2,"v":18.5},{"g":2,"v":0.2},{"g":2,"v":2},{"g":2,"v":1},{"g":2,"v":0.1},{"g":2,"v":3.5},{"g":2,"v":1},{"g":2,"v":0.5},{"g":2,"v":7},{"g":2,"v":0.4},{"g":2,"v":2.2},{"g":2,"v":0.5},{"g":2,"v":1.5},{"g":2,"v":1},
{"g":3,"v":4},{"g":3,"v":27},{"g":3,"v":0.2},{"g":3,"v":12},{"g":3,"v":1.5},{"g":3,"v":22},{"g":3,"v":0.5},{"g":3,"v":8},{"g":3,"v":53},{"g":3,"v":3},{"g":3,"v":15},{"g":3,"v":0.1},{"g":3,"v":5},{"g":3,"v":1},{"g":3,"v":30},{"g":3,"v":2},{"g":3,"v":10},{"g":3,"v":0.5},{"g":3,"v":20},{"g":3,"v":3},{"g":3,"v":1},{"g":3,"v":25},{"g":3,"v":6},{"g":3,"v":0.2},{"g":3,"v":14},{"g":3,"v":2},{"g":3,"v":38},{"g":3,"v":0.5},{"g":3,"v":9},{"g":3,"v":3},{"g":3,"v":0.5},{"g":3,"v":17},{"g":3,"v":5},{"g":3,"v":1.5},{"g":3,"v":26},{"g":3,"v":1},{"g":3,"v":11},{"g":3,"v":2},{"g":3,"v":7},{"g":3,"v":4},
{"g":4,"v":2},{"g":4,"v":25},{"g":4,"v":0.1},{"g":4,"v":6},{"g":4,"v":1},{"g":4,"v":14},{"g":4,"v":0.5},{"g":4,"v":4},{"g":4,"v":50},{"g":4,"v":1.5},{"g":4,"v":9},{"g":4,"v":0},{"g":4,"v":3},{"g":4,"v":0.5},{"g":4,"v":33},{"g":4,"v":1},{"g":4,"v":5},{"g":4,"v":0.3},{"g":4,"v":12},{"g":4,"v":2},{"g":4,"v":0.5},{"g":4,"v":17},{"g":4,"v":3},{"g":4,"v":0.05},{"g":4,"v":7},{"g":4,"v":1},{"g":4,"v":40},{"g":4,"v":0.4},{"g":4,"v":4},{"g":4,"v":1.5},{"g":4,"v":0.2},{"g":4,"v":10},{"g":4,"v":2},{"g":4,"v":0.8},{"g":4,"v":22},{"g":4,"v":0.5},{"g":4,"v":5},{"g":4,"v":1},{"g":4,"v":3},{"g":4,"v":2},
{"g":1,"m":3.5},{"g":2,"m":3.1},{"g":3,"m":12.8},{"g":4,"m":8.1}
],
"c2": [
{"g":1,"v":40},{"g":1,"v":4},{"g":1,"v":25},{"g":1,"v":1},{"g":1,"v":8},{"g":1,"v":0.1},{"g":1,"v":35},{"g":1,"v":2},{"g":1,"v":5},{"g":1,"v":0.5},{"g":1,"v":15},{"g":1,"v":3},{"g":1,"v":0},{"g":1,"v":28},{"g":1,"v":1},{"g":1,"v":7},{"g":1,"v":0.5},{"g":1,"v":35},{"g":1,"v":3},{"g":1,"v":0.1},{"g":1,"v":17},{"g":1,"v":2},{"g":1,"v":5},{"g":1,"v":0.5},{"g":1,"v":10},{"g":1,"v":2},{"g":1,"v":30},{"g":1,"v":1},{"g":1,"v":5},{"g":1,"v":0},{"g":1,"v":20},{"g":1,"v":1},{"g":1,"v":4},{"g":1,"v":0.5},{"g":1,"v":12},{"g":1,"v":2},{"g":1,"v":0.2},{"g":1,"v":3},{"g":1,"v":1},{"g":1,"v":1},
{"g":2,"v":55},{"g":2,"v":3},{"g":2,"v":20},{"g":2,"v":1},{"g":2,"v":8},{"g":2,"v":0.2},{"g":2,"v":40},{"g":2,"v":2},{"g":2,"v":5},{"g":2,"v":0.5},{"g":2,"v":12},{"g":2,"v":2},{"g":2,"v":0.02},{"g":2,"v":25},{"g":2,"v":1},{"g":2,"v":6},{"g":2,"v":0.5},{"g":2,"v":50},{"g":2,"v":3},{"g":2,"v":0.1},{"g":2,"v":15},{"g":2,"v":1.5},{"g":2,"v":4},{"g":2,"v":0.5},{"g":2,"v":10},{"g":2,"v":2},{"g":2,"v":35},{"g":2,"v":1},{"g":2,"v":5},{"g":2,"v":0.05},{"g":2,"v":15},{"g":2,"v":1},{"g":2,"v":4},{"g":2,"v":0.5},{"g":2,"v":12},{"g":2,"v":2},{"g":2,"v":0.3},{"g":2,"v":3},{"g":2,"v":1},{"g":2,"v":0.5},
{"g":3,"v":99},{"g":3,"v":40},{"g":3,"v":90},{"g":3,"v":5},{"g":3,"v":65},{"g":3,"v":1},{"g":3,"v":95},{"g":3,"v":15},{"g":3,"v":50},{"g":3,"v":2},{"g":3,"v":80},{"g":3,"v":30},{"g":3,"v":0.1},{"g":3,"v":92},{"g":3,"v":8},{"g":3,"v":60},{"g":3,"v":3},{"g":3,"v":97},{"g":3,"v":35},{"g":3,"v":0.5},{"g":3,"v":80},{"g":3,"v":12},{"g":3,"v":47},{"g":3,"v":2},{"g":3,"v":70},{"g":3,"v":25},{"g":3,"v":95},{"g":3,"v":5},{"g":3,"v":55},{"g":3,"v":0.2},{"g":3,"v":85},{"g":3,"v":10},{"g":3,"v":45},{"g":3,"v":3},{"g":3,"v":75},{"g":3,"v":20},{"g":3,"v":1},{"g":3,"v":30},{"g":3,"v":7},{"g":3,"v":4},
{"g":4,"v":95},{"g":4,"v":12},{"g":4,"v":60},{"g":4,"v":1},{"g":4,"v":30},{"g":4,"v":0.3},{"g":4,"v":75},{"g":4,"v":4},{"g":4,"v":20},{"g":4,"v":0.5},{"g":4,"v":45},{"g":4,"v":8},{"g":4,"v":0},{"g":4,"v":65},{"g":4,"v":2},{"g":4,"v":25},{"g":4,"v":1},{"g":4,"v":85},{"g":4,"v":10},{"g":4,"v":0.2},{"g":4,"v":50},{"g":4,"v":3},{"g":4,"v":20},{"g":4,"v":0.5},{"g":4,"v":35},{"g":4,"v":5},{"g":4,"v":70},{"g":4,"v":2},{"g":4,"v":25},{"g":4,"v":0.1},{"g":4,"v":55},{"g":4,"v":3},{"g":4,"v":15},{"g":4,"v":1},{"g":4,"v":40},{"g":4,"v":5},{"g":4,"v":0.5},{"g":4,"v":10},{"g":4,"v":2},{"g":4,"v":1},
{"g":1,"v":2.5},{"g":1,"v":29},{"g":1,"v":0.05},{"g":1,"v":7.5},{"g":1,"v":1},{"g":1,"v":18},{"g":1,"v":0.5},{"g":1,"v":4.5},{"g":1,"v":37},{"g":1,"v":1.5},{"g":1,"v":11},{"g":1,"v":0},{"g":1,"v":3},{"g":1,"v":0.8},{"g":1,"v":32},{"g":1,"v":1},{"g":1,"v":5},{"g":1,"v":0.15},{"g":1,"v":16},{"g":1,"v":2},{"g":1,"v":0.5},{"g":1,"v":22},{"g":1,"v":3.5},{"g":1,"v":0},{"g":1,"v":9},{"g":1,"v":1},{"g":1,"v":35},{"g":1,"v":0.35},{"g":1,"v":5},{"g":1,"v":2},{"g":1,"v":0.1},{"g":1,"v":13},{"g":1,"v":3},{"g":1,"v":1},{"g":1,"v":26},{"g":1,"v":0.5},{"g":1,"v":6},{"g":1,"v":1},{"g":1,"v":4},{"g":1,"v":2},
{"g":2,"v":2},{"g":2,"v":30},{"g":2,"v":0.08},{"g":2,"v":7},{"g":2,"v":1},{"g":2,"v":15},{"g":2,"v":0.5},{"g":2,"v":4},{"g":2,"v":52},{"g":2,"v":1.2},{"g":2,"v":11},{"g":2,"v":0.02},{"g":2,"v":3},{"g":2,"v":0.5},{"g":2,"v":37},{"g":2,"v":1},{"g":2,"v":5},{"g":2,"v":0.25},{"g":2,"v":13},{"g":2,"v":2},{"g":2,"v":0.5},{"g":2,"v":17},{"g":2,"v":3},{"g":2,"v":0.03},{"g":2,"v":9},{"g":2,"v":1},{"g":2,"v":45},{"g":2,"v":0.4},{"g":2,"v":4.5},{"g":2,"v":1.8},{"g":2,"v":0.15},{"g":2,"v":12},{"g":2,"v":2.5},{"g":2,"v":0.8},{"g":2,"v":22},{"g":2,"v":0.5},{"g":2,"v":5.5},{"g":2,"v":1},{"g":2,"v":3.5},{"g":2,"v":2},
{"g":3,"v":28},{"g":3,"v":93},{"g":3,"v":0.35},{"g":3,"v":62},{"g":3,"v":5},{"g":3,"v":82},{"g":3,"v":2},{"g":3,"v":46},{"g":3,"v":98},{"g":3,"v":11},{"g":3,"v":72},{"g":3,"v":0.1},{"g":3,"v":32},{"g":3,"v":3.5},{"g":3,"v":95},{"g":3,"v":7.5},{"g":3,"v":52},{"g":3,"v":1},{"g":3,"v":80},{"g":3,"v":18},{"g":3,"v":3},{"g":3,"v":88},{"g":3,"v":38},{"g":3,"v":0.15},{"g":3,"v":68},{"g":3,"v":6},{"g":3,"v":96},{"g":3,"v":1.5},{"g":3,"v":48},{"g":3,"v":14},{"g":3,"v":0.8},{"g":3,"v":78},{"g":3,"v":30},{"g":3,"v":4.5},{"g":3,"v":90},{"g":3,"v":2.5},{"g":3,"v":58},{"g":3,"v":9},{"g":3,"v":42},{"g":3,"v":22},
{"g":4,"v":6},{"g":4,"v":68},{"g":4,"v":0.15},{"g":4,"v":28},{"g":4,"v":1.5},{"g":4,"v":52},{"g":4,"v":0.5},{"g":4,"v":18},{"g":4,"v":90},{"g":4,"v":3},{"g":4,"v":38},{"g":4,"v":0},{"g":4,"v":10},{"g":4,"v":1},{"g":4,"v":72},{"g":4,"v":2},{"g":4,"v":22},{"g":4,"v":0.4},{"g":4,"v":48},{"g":4,"v":4.5},{"g":4,"v":1},{"g":4,"v":58},{"g":4,"v":11},{"g":4,"v":0.05},{"g":4,"v":32},{"g":4,"v":2},{"g":4,"v":80},{"g":4,"v":0.5},{"g":4,"v":20},{"g":4,"v":3.5},{"g":4,"v":0.25},{"g":4,"v":42},{"g":4,"v":9},{"g":4,"v":1},{"g":4,"v":62},{"g":4,"v":0.8},{"g":4,"v":25},{"g":4,"v":2.5},{"g":4,"v":13},{"g":4,"v":5},
{"g":1,"m":7.1},{"g":2,"m":6.9},{"g":3,"m":39.5},{"g":4,"m":24.3}
],
"d1": [
{"g":1,"v":80},{"g":1,"v":2},{"g":1,"v":10},{"g":1,"v":0.5},{"g":1,"v":4},{"g":1,"v":0.2},{"g":1,"v":20},{"g":1,"v":1},{"g":1,"v":3},{"g":1,"v":0.3},{"g":1,"v":5},{"g":1,"v":1.5},{"g":1,"v":0},{"g":1,"v":12},{"g":1,"v":1},{"g":1,"v":3},{"g":1,"v":0.5},{"g":1,"v":35},{"g":1,"v":2},{"g":1,"v":0.1},{"g":1,"v":6},{"g":1,"v":1},{"g":1,"v":2.5},{"g":1,"v":0.3},{"g":1,"v":4},{"g":1,"v":1.5},{"g":1,"v":15},{"g":1,"v":0.5},{"g":1,"v":3},{"g":1,"v":0},{"g":1,"v":8},{"g":1,"v":1},{"g":1,"v":2},{"g":1,"v":0.5},{"g":1,"v":5},{"g":1,"v":1.5},{"g":1,"v":0.2},{"g":1,"v":2},{"g":1,"v":1},{"g":1,"v":0.5},
{"g":2,"v":30},{"g":2,"v":1},{"g":2,"v":5},{"g":2,"v":0.3},{"g":2,"v":1.5},{"g":2,"v":0.1},{"g":2,"v":17},{"g":2,"v":0.5},{"g":2,"v":1},{"g":2,"v":0.2},{"g":2,"v":2},{"g":2,"v":0.8},{"g":2,"v":0.02},{"g":2,"v":7},{"g":2,"v":0.5},{"g":2,"v":1},{"g":2,"v":0.3},{"g":2,"v":18},{"g":2,"v":1},{"g":2,"v":0.1},{"g":2,"v":3},{"g":2,"v":0.5},{"g":2,"v":1},{"g":2,"v":0.2},{"g":2,"v":1.5},{"g":2,"v":0.5},{"g":2,"v":10},{"g":2,"v":0.5},{"g":2,"v":1},{"g":2,"v":0.05},{"g":2,"v":4},{"g":2,"v":0.5},{"g":2,"v":1},{"g":2,"v":0.2},{"g":2,"v":2},{"g":2,"v":0.5},{"g":2,"v":0.1},{"g":2,"v":0.8},{"g":2,"v":0.5},{"g":2,"v":0.3},
{"g":3,"v":40},{"g":3,"v":8},{"g":3,"v":25},{"g":3,"v":2},{"g":3,"v":15},{"g":3,"v":1},{"g":3,"v":30},{"g":3,"v":5},{"g":3,"v":10},{"g":3,"v":1},{"g":3,"v":20},{"g":3,"v":6},{"g":3,"v":0.4},{"g":3,"v":28},{"g":3,"v":3},{"g":3,"v":15},{"g":3,"v":2},{"g":3,"v":35},{"g":3,"v":8},{"g":3,"v":0.5},{"g":3,"v":20},{"g":3,"v":4},{"g":3,"v":10},{"g":3,"v":1},{"g":3,"v":15},{"g":3,"v":5},{"g":3,"v":30},{"g":3,"v":2},{"g":3,"v":12},{"g":3,"v":0.5},{"g":3,"v":25},{"g":3,"v":3},{"g":3,"v":10},{"g":3,"v":1.5},{"g":3,"v":20},{"g":3,"v":5},{"g":3,"v":1},{"g":3,"v":7},{"g":3,"v":3},{"g":3,"v":2},
{"g":4,"v":40},{"g":4,"v":7},{"g":4,"v":20},{"g":4,"v":2},{"g":4,"v":12},{"g":4,"v":0.5},{"g":4,"v":35},{"g":4,"v":4},{"g":4,"v":10},{"g":4,"v":1},{"g":4,"v":15},{"g":4,"v":5},{"g":4,"v":0.3},{"g":4,"v":25},{"g":4,"v":3},{"g":4,"v":10},{"g":4,"v":1.5},{"g":4,"v":35},{"g":4,"v":6},{"g":4,"v":0.5},{"g":4,"v":15},{"g":4,"v":3},{"g":4,"v":8},{"g":4,"v":1},{"g":4,"v":12},{"g":4,"v":5},{"g":4,"v":30},{"g":4,"v":2},{"g":4,"v":10},{"g":4,"v":0.5},{"g":4,"v":20},{"g":4,"v":3},{"g":4,"v":8},{"g":4,"v":1},{"g":4,"v":15},{"g":4,"v":5},{"g":4,"v":1},{"g":4,"v":5},{"g":4,"v":2},{"g":4,"v":2},
{"g":1,"v":1.5},{"g":1,"v":10},{"g":1,"v":0.05},{"g":1,"v":3.5},{"g":1,"v":0.5},{"g":1,"v":6},{"g":1,"v":0.3},{"g":1,"v":2},{"g":1,"v":20},{"g":1,"v":1},{"g":1,"v":4},{"g":1,"v":0},{"g":1,"v":2},{"g":1,"v":0.5},{"g":1,"v":12},{"g":1,"v":1},{"g":1,"v":3},{"g":1,"v":0.2},{"g":1,"v":5},{"g":1,"v":1},{"g":1,"v":0.5},{"g":1,"v":7},{"g":1,"v":2},{"g":1,"v":0},{"g":1,"v":4},{"g":1,"v":0.8},{"g":1,"v":15},{"g":1,"v":0.25},{"g":1,"v":2.5},{"g":1,"v":1},{"g":1,"v":0.15},{"g":1,"v":5},{"g":1,"v":1.5},{"g":1,"v":0.5},{"g":1,"v":9},{"g":1,"v":0.4},{"g":1,"v":3},{"g":1,"v":1},{"g":1,"v":2},{"g":1,"v":1.5},
{"g":2,"v":0.6},{"g":2,"v":8},{"g":2,"v":0.08},{"g":2,"v":1.2},{"g":2,"v":0.4},{"g":2,"v":3.5},{"g":2,"v":0.2},{"g":2,"v":1},{"g":2,"v":18},{"g":2,"v":0.5},{"g":2,"v":1.8},{"g":2,"v":0.02},{"g":2,"v":0.9},{"g":2,"v":0.3},{"g":2,"v":13},{"g":2,"v":0.5},{"g":2,"v":1},{"g":2,"v":0.1},{"g":2,"v":2.5},{"g":2,"v":0.5},{"g":2,"v":0.25},{"g":2,"v":4.5},{"g":2,"v":1},{"g":2,"v":0.03},{"g":2,"v":1.5},{"g":2,"v":0.5},{"g":2,"v":17},{"g":2,"v":0.15},{"g":2,"v":1},{"g":2,"v":0.5},{"g":2,"v":0.1},{"g":2,"v":2},{"g":2,"v":0.8},{"g":2,"v":0.3},{"g":2,"v":6},{"g":2,"v":0.2},{"g":2,"v":1},{"g":2,"v":0.5},{"g":2,"v":1},{"g":2,"v":0.5},
{"g":3,"v":5.5},{"g":3,"v":28},{"g":3,"v":0.5},{"g":3,"v":15},{"g":3,"v":2},{"g":3,"v":22},{"g":3,"v":1},{"g":3,"v":10},{"g":3,"v":38},{"g":3,"v":3.5},{"g":3,"v":18},{"g":3,"v":0.4},{"g":3,"v":7.5},{"g":3,"v":2},{"g":3,"v":30},{"g":3,"v":3},{"g":3,"v":11},{"g":3,"v":1},{"g":3,"v":20},{"g":3,"v":5},{"g":3,"v":1.8},{"g":3,"v":25},{"g":3,"v":8},{"g":3,"v":0.45},{"g":3,"v":15},{"g":3,"v":2.5},{"g":3,"v":33},{"g":3,"v":1},{"g":3,"v":10},{"g":3,"v":4.5},{"g":3,"v":0.8},{"g":3,"v":20},{"g":3,"v":6.5},{"g":3,"v":2},{"g":3,"v":27},{"g":3,"v":1.2},{"g":3,"v":14},{"g":3,"v":3},{"g":3,"v":9},{"g":3,"v":5},
{"g":4,"v":5},{"g":4,"v":28},{"g":4,"v":0.5},{"g":4,"v":11},{"g":4,"v":2},{"g":4,"v":18},{"g":4,"v":1},{"g":4,"v":8},{"g":4,"v":38},{"g":4,"v":3},{"g":4,"v":14},{"g":4,"v":0.3},{"g":4,"v":5.5},{"g":4,"v":1.8},{"g":4,"v":33},{"g":4,"v":2.5},{"g":4,"v":10},{"g":4,"v":0.8},{"g":4,"v":15},{"g":4,"v":4.5},{"g":4,"v":1.2},{"g":4,"v":20},{"g":4,"v":6.5},{"g":4,"v":0.4},{"g":4,"v":12},{"g":4,"v":2},{"g":4,"v":35},{"g":4,"v":1},{"g":4,"v":9},{"g":4,"v":3.5},{"g":4,"v":0.5},{"g":4,"v":15},{"g":4,"v":5},{"g":4,"v":2},{"g":4,"v":22},{"g":4,"v":1},{"g":4,"v":10},{"g":4,"v":3},{"g":4,"v":7.5},{"g":4,"v":5},
{"g":1,"m":3.8},{"g":2,"m":2.6},{"g":3,"m":9.9},{"g":4,"m":8.4}
],
"d2": [
{"g":1,"v":90},{"g":1,"v":22},{"g":1,"v":60},{"g":1,"v":7},{"g":1,"v":35},{"g":1,"v":2},{"g":1,"v":80},{"g":1,"v":13},{"g":1,"v":30},{"g":1,"v":4},{"g":1,"v":45},{"g":1,"v":18},{"g":1,"v":1},{"g":1,"v":65},{"g":1,"v":10},{"g":1,"v":33},{"g":1,"v":5},{"g":1,"v":88},{"g":1,"v":20},{"g":1,"v":2},{"g":1,"v":48},{"g":1,"v":12},{"g":1,"v":28},{"g":1,"v":3},{"g":1,"v":40},{"g":1,"v":16},{"g":1,"v":70},{"g":1,"v":8},{"g":1,"v":30},{"g":1,"v":1},{"g":1,"v":50},{"g":1,"v":10},{"g":1,"v":25},{"g":1,"v":5},{"g":1,"v":40},{"g":1,"v":15},{"g":1,"v":3},{"g":1,"v":20},{"g":1,"v":9},{"g":1,"v":6},
{"g":2,"v":80},{"g":2,"v":25},{"g":2,"v":55},{"g":2,"v":10},{"g":2,"v":38},{"g":2,"v":3},{"g":2,"v":70},{"g":2,"v":15},{"g":2,"v":30},{"g":2,"v":5},{"g":2,"v":45},{"g":2,"v":20},{"g":2,"v":1},{"g":2,"v":60},{"g":2,"v":12},{"g":2,"v":35},{"g":2,"v":8},{"g":2,"v":78},{"g":2,"v":25},{"g":2,"v":2},{"g":2,"v":48},{"g":2,"v":15},{"g":2,"v":30},{"g":2,"v":5},{"g":2,"v":40},{"g":2,"v":20},{"g":2,"v":65},{"g":2,"v":10},{"g":2,"v":35},{"g":2,"v":2},{"g":2,"v":50},{"g":2,"v":12},{"g":2,"v":28},{"g":2,"v":6},{"g":2,"v":42},{"g":2,"v":18},{"g":2,"v":4},{"g":2,"v":22},{"g":2,"v":10},{"g":2,"v":8},
{"g":3,"v":95},{"g":3,"v":60},{"g":3,"v":85},{"g":3,"v":22},{"g":3,"v":75},{"g":3,"v":6},{"g":3,"v":90},{"g":3,"v":40},{"g":3,"v":68},{"g":3,"v":12},{"g":3,"v":80},{"g":3,"v":50},{"g":3,"v":1},{"g":3,"v":88},{"g":3,"v":30},{"g":3,"v":70},{"g":3,"v":18},{"g":3,"v":95},{"g":3,"v":60},{"g":3,"v":5},{"g":3,"v":80},{"g":3,"v":40},{"g":3,"v":65},{"g":3,"v":10},{"g":3,"v":75},{"g":3,"v":48},{"g":3,"v":90},{"g":3,"v":25},{"g":3,"v":70},{"g":3,"v":3},{"g":3,"v":85},{"g":3,"v":35},{"g":3,"v":65},{"g":3,"v":15},{"g":3,"v":78},{"g":3,"v":45},{"g":3,"v":8},{"g":3,"v":55},{"g":3,"v":30},{"g":3,"v":20},
{"g":4,"v":90},{"g":4,"v":55},{"g":4,"v":80},{"g":4,"v":20},{"g":4,"v":65},{"g":4,"v":4},{"g":4,"v":85},{"g":4,"v":40},{"g":4,"v":60},{"g":4,"v":10},{"g":4,"v":70},{"g":4,"v":50},{"g":4,"v":1},{"g":4,"v":80},{"g":4,"v":30},{"g":4,"v":65},{"g":4,"v":15},{"g":4,"v":88},{"g":4,"v":55},{"g":4,"v":3},{"g":4,"v":72},{"g":4,"v":38},{"g":4,"v":60},{"g":4,"v":8},{"g":4,"v":68},{"g":4,"v":48},{"g":4,"v":85},{"g":4,"v":22},{"g":4,"v":62},{"g":4,"v":2},{"g":4,"v":75},{"g":4,"v":35},{"g":4,"v":58},{"g":4,"v":12},{"g":4,"v":70},{"g":4,"v":45},{"g":4,"v":6},{"g":4,"v":50},{"g":4,"v":25},{"g":4,"v":20},
{"g":1,"v":12},{"g":1,"v":40},{"g":1,"v":2},{"g":1,"v":20},{"g":1,"v":6},{"g":1,"v":30},{"g":1,"v":4},{"g":1,"v":15},{"g":1,"v":60},{"g":1,"v":9},{"g":1,"v":25},{"g":1,"v":1},{"g":1,"v":13},{"g":1,"v":5},{"g":1,"v":45},{"g":1,"v":8},{"g":1,"v":18},{"g":1,"v":3},{"g":1,"v":28},{"g":1,"v":10},{"g":1,"v":5},{"g":1,"v":30},{"g":1,"v":14},{"g":1,"v":1.5},{"g":1,"v":22},{"g":1,"v":7},{"g":1,"v":50},{"g":1,"v":3},{"g":1,"v":17},{"g":1,"v":10},{"g":1,"v":2},{"g":1,"v":25},{"g":1,"v":12},{"g":1,"v":6},{"g":1,"v":35},{"g":1,"v":4},{"g":1,"v":20},{"g":1,"v":8},{"g":1,"v":15},{"g":1,"v":11},
{"g":2,"v":14},{"g":2,"v":45},{"g":2,"v":2},{"g":2,"v":25},{"g":2,"v":8},{"g":2,"v":35},{"g":2,"v":5},{"g":2,"v":20},{"g":2,"v":65},{"g":2,"v":10},{"g":2,"v":30},{"g":2,"v":1},{"g":2,"v":15},{"g":2,"v":6},{"g":2,"v":50},{"g":2,"v":9},{"g":2,"v":22},{"g":2,"v":3},{"g":2,"v":32},{"g":2,"v":12},{"g":2,"v":6},{"g":2,"v":38},{"g":2,"v":17},{"g":2,"v":1.5},{"g":2,"v":28},{"g":2,"v":8},{"g":2,"v":55},{"g":2,"v":4},{"g":2,"v":20},{"g":2,"v":11},{"g":2,"v":3},{"g":2,"v":30},{"g":2,"v":15},{"g":2,"v":7},{"g":2,"v":40},{"g":2,"v":5},{"g":2,"v":25},{"g":2,"v":10},{"g":2,"v":18},{"g":2,"v":12},
{"g":3,"v":50},{"g":3,"v":90},{"g":3,"v":4},{"g":3,"v":72},{"g":3,"v":24},{"g":3,"v":82},{"g":3,"v":11},{"g":3,"v":65},{"g":3,"v":95},{"g":3,"v":38},{"g":3,"v":75},{"g":3,"v":1},{"g":3,"v":58},{"g":3,"v":20},{"g":3,"v":90},{"g":3,"v":30},{"g":3,"v":70},{"g":3,"v":7},{"g":3,"v":80},{"g":3,"v":42},{"g":3,"v":16},{"g":3,"v":85},{"g":3,"v":60},{"g":3,"v":2},{"g":3,"v":75},{"g":3,"v":28},{"g":3,"v":92},{"g":3,"v":9},{"g":3,"v":65},{"g":3,"v":40},{"g":3,"v":5},{"g":3,"v":80},{"g":3,"v":52},{"g":3,"v":21},{"g":3,"v":85},{"g":3,"v":14},{"g":3,"v":70},{"g":3,"v":32},{"g":3,"v":62},{"g":3,"v":45},
{"g":4,"v":49},{"g":4,"v":82},{"g":4,"v":2.5},{"g":4,"v":65},{"g":4,"v":21},{"g":4,"v":74},{"g":4,"v":9},{"g":4,"v":59},{"g":4,"v":89},{"g":4,"v":36},{"g":4,"v":69},{"g":4,"v":1},{"g":4,"v":52},{"g":4,"v":18},{"g":4,"v":85},{"g":4,"v":28},{"g":4,"v":61},{"g":4,"v":5},{"g":4,"v":71},{"g":4,"v":42},{"g":4,"v":14},{"g":4,"v":78},{"g":4,"v":55},{"g":4,"v":1.5},{"g":4,"v":66},{"g":4,"v":24},{"g":4,"v":86},{"g":4,"v":7},{"g":4,"v":60},{"g":4,"v":39},{"g":4,"v":3.5},{"g":4,"v":70},{"g":4,"v":50},{"g":4,"v":20},{"g":4,"v":80},{"g":4,"v":11},{"g":4,"v":64},{"g":4,"v":32},{"g":4,"v":56},{"g":4,"v":46},
{"g":1,"m":22.8},{"g":2,"m":25.9},{"g":3,"m":49.3},{"g":4,"m":47.8}
]
},
"spacing": 79,
"vconcat": [
{"title": {"text": "(a)", "anchor": "start", "frame": "bounds", "fontSize": 33, "dx": 105, "offset": -14},
 "spacing": 76,
 "hconcat": [
  {"data": {"name": "a1"}, "title": {"text": "Snag basal area (Chips Fire)", "anchor": "middle", "frame": "group"},
   "width": 836, "height": 453, "resolve": {"scale": {"x": "independent"}},
   "layer": [
    {"transform": [{"filter": "isValid(datum.v)"}, {"joinaggregate": [{"op": "min", "field": "v", "as": "lo"}, {"op": "max", "field": "v", "as": "hi"}], "groupby": ["g"]}, {"density": "v", "groupby": ["g", "lo", "hi"], "steps": 200, "as": ["dv", "dens"]}, {"filter": "datum.dv >= datum.lo && datum.dv <= datum.hi"}, {"joinaggregate": [{"op": "max", "field": "dens", "as": "mx"}]}, {"calculate": "datum.g - 0.45 * datum.dens / datum.mx", "as": "xl"}, {"calculate": "datum.g + 0.45 * datum.dens / datum.mx", "as": "xr"}],
     "mark": {"type": "area", "orient": "horizontal", "fill": "#FFFFFF", "fillOpacity": 0.35, "stroke": "#333333", "strokeWidth": 1.8},
     "encoding": {
      "y": {"field": "dv", "type": "quantitative", "scale": {"domain": [-0.6, 10.5], "nice": false, "zero": false},
            "axis": {"title": "m^2 per hectare", "values": [0,1.25,2.5,3.75,5,6.25,7.5,8.75,10], "format": ".1f", "labelExpr": "indexof([1.25,3.75,6.25,8.75], datum.value) >= 0 ? '' : datum.label", "grid": true, "gridWidth": {"condition": {"test": "indexof([1.25,3.75,6.25,8.75], datum.value) >= 0", "value": 1.3}, "value": 2.6}, "tickOpacity": {"condition": {"test": "indexof([1.25,3.75,6.25,8.75], datum.value) >= 0", "value": 0}, "value": 1}}},
      "x": {"field": "xl", "type": "quantitative", "scale": {"domain": [0.4, 4.6], "nice": false, "zero": false}, "axis": null},
      "x2": {"field": "xr"},
      "detail": {"field": "g", "type": "nominal"}}},
    {"transform": [{"filter": "isValid(datum.v)"}, {"window": [{"op": "row_number", "as": "k"}], "groupby": ["g"]}],
     "mark": {"type": "circle", "size": 64, "opacity": 1, "fill": "#000000", "fillOpacity": 0.45, "stroke": "#000000", "strokeOpacity": 0.45, "strokeWidth": 0.8},
     "encoding": {
      "x": {"field": "g", "type": "nominal", "scale": {"paddingInner": 0, "paddingOuter": 0.1},
            "axis": {"title": null, "labelExpr": "['','Control (pre-salvage)','Pre-salvage','Control (post-salvage)','Post-salvage'][datum.value]", "labelAngle": 0, "labelLimit": 400, "labelOverlap": false, "labelPadding": 4, "grid": true, "gridWidth": 2.6, "bandPosition": 0.5, "tickExtra": false}},
      "xOffset": {"field": "k", "type": "quantitative", "scale": {"domain": [-261.9, 342.9], "nice": false, "zero": false}},
      "y": {"field": "v", "type": "quantitative", "scale": {"domain": [-0.6, 10.5], "nice": false, "zero": false}}}},
    {"transform": [{"filter": "isValid(datum.m)"}],
     "mark": {"type": "tick", "color": "#000000", "opacity": 1, "thickness": 5.5, "size": 179},
     "encoding": {
      "x": {"field": "g", "type": "nominal", "scale": {"paddingInner": 0, "paddingOuter": 0.1}, "axis": null},
      "y": {"field": "m", "type": "quantitative", "scale": {"domain": [-0.6, 10.5], "nice": false, "zero": false}}}}
   ]},
  {"data": {"name": "a2"}, "title": {"text": "Snag basal area (Rim Fire)", "anchor": "middle", "frame": "group"},
   "width": 835, "height": 453, "resolve": {"scale": {"x": "independent"}},
   "layer": [
    {"transform": [{"filter": "isValid(datum.v)"}, {"joinaggregate": [{"op": "min", "field": "v", "as": "lo"}, {"op": "max", "field": "v", "as": "hi"}], "groupby": ["g"]}, {"density": "v", "groupby": ["g", "lo", "hi"], "steps": 200, "as": ["dv", "dens"]}, {"filter": "datum.dv >= datum.lo && datum.dv <= datum.hi"}, {"joinaggregate": [{"op": "max", "field": "dens", "as": "mx"}]}, {"calculate": "datum.g - 0.45 * datum.dens / datum.mx", "as": "xl"}, {"calculate": "datum.g + 0.45 * datum.dens / datum.mx", "as": "xr"}],
     "mark": {"type": "area", "orient": "horizontal", "fill": "#FFFFFF", "fillOpacity": 0.35, "stroke": "#333333", "strokeWidth": 1.8},
     "encoding": {
      "y": {"field": "dv", "type": "quantitative", "scale": {"domain": [-0.6, 10.5], "nice": false, "zero": false},
            "axis": {"title": "m^2 per hectare", "values": [0,1.25,2.5,3.75,5,6.25,7.5,8.75,10], "format": ".1f", "labelExpr": "indexof([1.25,3.75,6.25,8.75], datum.value) >= 0 ? '' : datum.label", "grid": true, "gridWidth": {"condition": {"test": "indexof([1.25,3.75,6.25,8.75], datum.value) >= 0", "value": 1.3}, "value": 2.6}, "tickOpacity": {"condition": {"test": "indexof([1.25,3.75,6.25,8.75], datum.value) >= 0", "value": 0}, "value": 1}}},
      "x": {"field": "xl", "type": "quantitative", "scale": {"domain": [0.4, 4.6], "nice": false, "zero": false}, "axis": null},
      "x2": {"field": "xr"},
      "detail": {"field": "g", "type": "nominal"}}},
    {"transform": [{"filter": "isValid(datum.v)"}, {"window": [{"op": "row_number", "as": "k"}], "groupby": ["g"]}],
     "mark": {"type": "circle", "size": 64, "opacity": 1, "fill": "#000000", "fillOpacity": 0.45, "stroke": "#000000", "strokeOpacity": 0.45, "strokeWidth": 0.8},
     "encoding": {
      "x": {"field": "g", "type": "nominal", "scale": {"paddingInner": 0, "paddingOuter": 0.1},
            "axis": {"title": null, "labelExpr": "['','Control (pre-salvage)','Pre-salvage','Control (post-salvage)','Post-salvage'][datum.value]", "labelAngle": 0, "labelLimit": 400, "labelOverlap": false, "labelPadding": 4, "grid": true, "gridWidth": 2.6, "bandPosition": 0.5, "tickExtra": false}},
      "xOffset": {"field": "k", "type": "quantitative", "scale": {"domain": [-261.5, 342.5], "nice": false, "zero": false}},
      "y": {"field": "v", "type": "quantitative", "scale": {"domain": [-0.6, 10.5], "nice": false, "zero": false}}}},
    {"transform": [{"filter": "isValid(datum.m)"}],
     "mark": {"type": "tick", "color": "#000000", "opacity": 1, "thickness": 5.5, "size": 179},
     "encoding": {
      "x": {"field": "g", "type": "nominal", "scale": {"paddingInner": 0, "paddingOuter": 0.1}, "axis": null},
      "y": {"field": "m", "type": "quantitative", "scale": {"domain": [-0.6, 10.5], "nice": false, "zero": false}}}}
   ]}
 ]},
{"title": {"text": "(b)", "anchor": "start", "frame": "bounds", "fontSize": 33, "dx": 105, "offset": -14},
 "spacing": 56,
 "hconcat": [
  {"data": {"name": "b1"}, "title": {"text": "Live basal area (Chips Fire)", "anchor": "middle", "frame": "group"},
   "width": 836, "height": 453, "resolve": {"scale": {"x": "independent"}},
   "layer": [
    {"transform": [{"filter": "isValid(datum.v)"}, {"joinaggregate": [{"op": "min", "field": "v", "as": "lo"}, {"op": "max", "field": "v", "as": "hi"}], "groupby": ["g"]}, {"density": "v", "groupby": ["g", "lo", "hi"], "steps": 200, "as": ["dv", "dens"]}, {"filter": "datum.dv >= datum.lo && datum.dv <= datum.hi"}, {"joinaggregate": [{"op": "max", "field": "dens", "as": "mx"}]}, {"calculate": "datum.g - 0.45 * datum.dens / datum.mx", "as": "xl"}, {"calculate": "datum.g + 0.45 * datum.dens / datum.mx", "as": "xr"}],
     "mark": {"type": "area", "orient": "horizontal", "fill": "#FFFFFF", "fillOpacity": 0.35, "stroke": "#333333", "strokeWidth": 1.8},
     "encoding": {
      "y": {"field": "dv", "type": "quantitative", "scale": {"domain": [-0.6, 10.5], "nice": false, "zero": false},
            "axis": {"title": "m^2 per hectare", "values": [0,1.25,2.5,3.75,5,6.25,7.5,8.75,10], "format": ".1f", "labelExpr": "indexof([1.25,3.75,6.25,8.75], datum.value) >= 0 ? '' : datum.label", "grid": true, "gridWidth": {"condition": {"test": "indexof([1.25,3.75,6.25,8.75], datum.value) >= 0", "value": 1.3}, "value": 2.6}, "tickOpacity": {"condition": {"test": "indexof([1.25,3.75,6.25,8.75], datum.value) >= 0", "value": 0}, "value": 1}}},
      "x": {"field": "xl", "type": "quantitative", "scale": {"domain": [0.4, 4.6], "nice": false, "zero": false}, "axis": null},
      "x2": {"field": "xr"},
      "detail": {"field": "g", "type": "nominal"}}},
    {"transform": [{"filter": "isValid(datum.v)"}, {"window": [{"op": "row_number", "as": "k"}], "groupby": ["g"]}],
     "mark": {"type": "circle", "size": 64, "opacity": 1, "fill": "#000000", "fillOpacity": 0.45, "stroke": "#000000", "strokeOpacity": 0.45, "strokeWidth": 0.8},
     "encoding": {
      "x": {"field": "g", "type": "nominal", "scale": {"paddingInner": 0, "paddingOuter": 0.1},
            "axis": {"title": null, "labelExpr": "['','Control (pre-salvage)','Pre-salvage','Control (post-salvage)','Post-salvage'][datum.value]", "labelAngle": 0, "labelLimit": 400, "labelOverlap": false, "labelPadding": 4, "grid": true, "gridWidth": 2.6, "bandPosition": 0.5, "tickExtra": false}},
      "xOffset": {"field": "k", "type": "quantitative", "scale": {"domain": [-261.9, 342.9], "nice": false, "zero": false}},
      "y": {"field": "v", "type": "quantitative", "scale": {"domain": [-0.6, 10.5], "nice": false, "zero": false}}}},
    {"transform": [{"filter": "isValid(datum.m)"}],
     "mark": {"type": "tick", "color": "#000000", "opacity": 1, "thickness": 5.5, "size": 179},
     "encoding": {
      "x": {"field": "g", "type": "nominal", "scale": {"paddingInner": 0, "paddingOuter": 0.1}, "axis": null},
      "y": {"field": "m", "type": "quantitative", "scale": {"domain": [-0.6, 10.5], "nice": false, "zero": false}}}}
   ]},
  {"data": {"name": "b2"}, "title": {"text": "Live basal area (Rim Fire)", "anchor": "middle", "frame": "group"},
   "width": 836, "height": 453, "resolve": {"scale": {"x": "independent"}},
   "layer": [
    {"transform": [{"filter": "isValid(datum.v)"}, {"joinaggregate": [{"op": "min", "field": "v", "as": "lo"}, {"op": "max", "field": "v", "as": "hi"}], "groupby": ["g"]}, {"density": "v", "groupby": ["g", "lo", "hi"], "steps": 200, "as": ["dv", "dens"]}, {"filter": "datum.dv >= datum.lo && datum.dv <= datum.hi"}, {"joinaggregate": [{"op": "max", "field": "dens", "as": "mx"}]}, {"calculate": "datum.g - 0.45 * datum.dens / datum.mx", "as": "xl"}, {"calculate": "datum.g + 0.45 * datum.dens / datum.mx", "as": "xr"}],
     "mark": {"type": "area", "orient": "horizontal", "fill": "#FFFFFF", "fillOpacity": 0.35, "stroke": "#333333", "strokeWidth": 1.8},
     "encoding": {
      "y": {"field": "dv", "type": "quantitative", "scale": {"domain": [-0.6, 10.5], "nice": false, "zero": false},
            "axis": {"title": "m^2 per hectare", "values": [0,1.25,2.5,3.75,5,6.25,7.5,8.75,10], "format": ".1f", "labelExpr": "indexof([1.25,3.75,6.25,8.75], datum.value) >= 0 ? '' : datum.label", "grid": true, "gridWidth": {"condition": {"test": "indexof([1.25,3.75,6.25,8.75], datum.value) >= 0", "value": 1.3}, "value": 2.6}, "tickOpacity": {"condition": {"test": "indexof([1.25,3.75,6.25,8.75], datum.value) >= 0", "value": 0}, "value": 1}}},
      "x": {"field": "xl", "type": "quantitative", "scale": {"domain": [0.4, 4.6], "nice": false, "zero": false}, "axis": null},
      "x2": {"field": "xr"},
      "detail": {"field": "g", "type": "nominal"}}},
    {"transform": [{"filter": "isValid(datum.v)"}, {"window": [{"op": "row_number", "as": "k"}], "groupby": ["g"]}],
     "mark": {"type": "circle", "size": 64, "opacity": 1, "fill": "#000000", "fillOpacity": 0.45, "stroke": "#000000", "strokeOpacity": 0.45, "strokeWidth": 0.8},
     "encoding": {
      "x": {"field": "g", "type": "nominal", "scale": {"paddingInner": 0, "paddingOuter": 0.1},
            "axis": {"title": null, "labelExpr": "['','Control (pre-salvage)','Pre-salvage','Control (post-salvage)','Post-salvage'][datum.value]", "labelAngle": 0, "labelLimit": 400, "labelOverlap": false, "labelPadding": 4, "grid": true, "gridWidth": 2.6, "bandPosition": 0.5, "tickExtra": false}},
      "xOffset": {"field": "k", "type": "quantitative", "scale": {"domain": [-261.9, 342.9], "nice": false, "zero": false}},
      "y": {"field": "v", "type": "quantitative", "scale": {"domain": [-0.6, 10.5], "nice": false, "zero": false}}}},
    {"transform": [{"filter": "isValid(datum.m)"}],
     "mark": {"type": "tick", "color": "#000000", "opacity": 1, "thickness": 5.5, "size": 179},
     "encoding": {
      "x": {"field": "g", "type": "nominal", "scale": {"paddingInner": 0, "paddingOuter": 0.1}, "axis": null},
      "y": {"field": "m", "type": "quantitative", "scale": {"domain": [-0.6, 10.5], "nice": false, "zero": false}}}}
   ]}
 ]},
{"title": {"text": "(c)", "anchor": "start", "frame": "bounds", "fontSize": 33, "dx": 92, "offset": -14},
 "spacing": 55,
 "hconcat": [
  {"data": {"name": "c1"}, "title": {"text": "Shrub cover (Chips Fire)", "anchor": "middle", "frame": "group"},
   "width": 843, "height": 453, "resolve": {"scale": {"x": "independent"}},
   "layer": [
    {"transform": [{"filter": "isValid(datum.v)"}, {"joinaggregate": [{"op": "min", "field": "v", "as": "lo"}, {"op": "max", "field": "v", "as": "hi"}], "groupby": ["g"]}, {"density": "v", "groupby": ["g", "lo", "hi"], "steps": 200, "as": ["dv", "dens"]}, {"filter": "datum.dv >= datum.lo && datum.dv <= datum.hi"}, {"joinaggregate": [{"op": "max", "field": "dens", "as": "mx"}]}, {"calculate": "datum.g - 0.45 * datum.dens / datum.mx", "as": "xl"}, {"calculate": "datum.g + 0.45 * datum.dens / datum.mx", "as": "xr"}],
     "mark": {"type": "area", "orient": "horizontal", "fill": "#FFFFFF", "fillOpacity": 0.35, "stroke": "#333333", "strokeWidth": 1.8},
     "encoding": {
      "y": {"field": "dv", "type": "quantitative", "scale": {"domain": [-5, 105], "nice": false, "zero": false},
            "axis": {"title": "% cover", "values": [0,12.5,25,37.5,50,62.5,75,87.5,100], "labelExpr": "indexof([12.5,37.5,62.5,87.5], datum.value) >= 0 ? '' : datum.label", "grid": true, "gridWidth": {"condition": {"test": "indexof([12.5,37.5,62.5,87.5], datum.value) >= 0", "value": 1.3}, "value": 2.6}, "tickOpacity": {"condition": {"test": "indexof([12.5,37.5,62.5,87.5], datum.value) >= 0", "value": 0}, "value": 1}}},
      "x": {"field": "xl", "type": "quantitative", "scale": {"domain": [0.4, 4.6], "nice": false, "zero": false}, "axis": null},
      "x2": {"field": "xr"},
      "detail": {"field": "g", "type": "nominal"}}},
    {"transform": [{"filter": "isValid(datum.v)"}, {"window": [{"op": "row_number", "as": "k"}], "groupby": ["g"]}],
     "mark": {"type": "circle", "size": 64, "opacity": 1, "fill": "#000000", "fillOpacity": 0.45, "stroke": "#000000", "strokeOpacity": 0.45, "strokeWidth": 0.8},
     "encoding": {
      "x": {"field": "g", "type": "nominal", "scale": {"paddingInner": 0, "paddingOuter": 0.1},
            "axis": {"title": null, "labelExpr": "['','Control (pre-salvage)','Pre-salvage','Control (post-salvage)','Post-salvage'][datum.value]", "labelAngle": 0, "labelLimit": 400, "labelOverlap": false, "labelPadding": 4, "grid": true, "gridWidth": 2.6, "bandPosition": 0.5, "tickExtra": false}},
      "xOffset": {"field": "k", "type": "quantitative", "scale": {"domain": [-264.5, 345.5], "nice": false, "zero": false}},
      "y": {"field": "v", "type": "quantitative", "scale": {"domain": [-5, 105], "nice": false, "zero": false}}}},
    {"transform": [{"filter": "isValid(datum.m)"}],
     "mark": {"type": "tick", "color": "#000000", "opacity": 1, "thickness": 5.5, "size": 180.6},
     "encoding": {
      "x": {"field": "g", "type": "nominal", "scale": {"paddingInner": 0, "paddingOuter": 0.1}, "axis": null},
      "y": {"field": "m", "type": "quantitative", "scale": {"domain": [-5, 105], "nice": false, "zero": false}}}}
   ]},
  {"data": {"name": "c2"}, "title": {"text": "Shrub cover (Rim Fire)", "anchor": "middle", "frame": "group"},
   "width": 843, "height": 453, "resolve": {"scale": {"x": "independent"}},
   "layer": [
    {"transform": [{"filter": "isValid(datum.v)"}, {"joinaggregate": [{"op": "min", "field": "v", "as": "lo"}, {"op": "max", "field": "v", "as": "hi"}], "groupby": ["g"]}, {"density": "v", "groupby": ["g", "lo", "hi"], "steps": 200, "as": ["dv", "dens"]}, {"filter": "datum.dv >= datum.lo && datum.dv <= datum.hi"}, {"joinaggregate": [{"op": "max", "field": "dens", "as": "mx"}]}, {"calculate": "datum.g - 0.45 * datum.dens / datum.mx", "as": "xl"}, {"calculate": "datum.g + 0.45 * datum.dens / datum.mx", "as": "xr"}],
     "mark": {"type": "area", "orient": "horizontal", "fill": "#FFFFFF", "fillOpacity": 0.35, "stroke": "#333333", "strokeWidth": 1.8},
     "encoding": {
      "y": {"field": "dv", "type": "quantitative", "scale": {"domain": [-5, 105], "nice": false, "zero": false},
            "axis": {"title": "% cover", "values": [0,12.5,25,37.5,50,62.5,75,87.5,100], "labelExpr": "indexof([12.5,37.5,62.5,87.5], datum.value) >= 0 ? '' : datum.label", "grid": true, "gridWidth": {"condition": {"test": "indexof([12.5,37.5,62.5,87.5], datum.value) >= 0", "value": 1.3}, "value": 2.6}, "tickOpacity": {"condition": {"test": "indexof([12.5,37.5,62.5,87.5], datum.value) >= 0", "value": 0}, "value": 1}}},
      "x": {"field": "xl", "type": "quantitative", "scale": {"domain": [0.4, 4.6], "nice": false, "zero": false}, "axis": null},
      "x2": {"field": "xr"},
      "detail": {"field": "g", "type": "nominal"}}},
    {"transform": [{"filter": "isValid(datum.v)"}, {"window": [{"op": "row_number", "as": "k"}], "groupby": ["g"]}],
     "mark": {"type": "circle", "size": 64, "opacity": 1, "fill": "#000000", "fillOpacity": 0.45, "stroke": "#000000", "strokeOpacity": 0.45, "strokeWidth": 0.8},
     "encoding": {
      "x": {"field": "g", "type": "nominal", "scale": {"paddingInner": 0, "paddingOuter": 0.1},
            "axis": {"title": null, "labelExpr": "['','Control (pre-salvage)','Pre-salvage','Control (post-salvage)','Post-salvage'][datum.value]", "labelAngle": 0, "labelLimit": 400, "labelOverlap": false, "labelPadding": 4, "grid": true, "gridWidth": 2.6, "bandPosition": 0.5, "tickExtra": false}},
      "xOffset": {"field": "k", "type": "quantitative", "scale": {"domain": [-264.5, 345.5], "nice": false, "zero": false}},
      "y": {"field": "v", "type": "quantitative", "scale": {"domain": [-5, 105], "nice": false, "zero": false}}}},
    {"transform": [{"filter": "isValid(datum.m)"}],
     "mark": {"type": "tick", "color": "#000000", "opacity": 1, "thickness": 5.5, "size": 180.6},
     "encoding": {
      "x": {"field": "g", "type": "nominal", "scale": {"paddingInner": 0, "paddingOuter": 0.1}, "axis": null},
      "y": {"field": "m", "type": "quantitative", "scale": {"domain": [-5, 105], "nice": false, "zero": false}}}}
   ]}
 ]},
{"title": {"text": "(d)", "anchor": "start", "frame": "bounds", "fontSize": 33, "dx": 92, "offset": -14},
 "spacing": 63,
 "hconcat": [
  {"data": {"name": "d1"}, "title": {"text": "Herbaceous vegetation cover (Chips Fire)", "anchor": "middle", "frame": "group"},
   "width": 843, "height": 453, "resolve": {"scale": {"x": "independent"}},
   "layer": [
    {"transform": [{"filter": "isValid(datum.v)"}, {"joinaggregate": [{"op": "min", "field": "v", "as": "lo"}, {"op": "max", "field": "v", "as": "hi"}], "groupby": ["g"]}, {"density": "v", "groupby": ["g", "lo", "hi"], "steps": 200, "as": ["dv", "dens"]}, {"filter": "datum.dv >= datum.lo && datum.dv <= datum.hi"}, {"joinaggregate": [{"op": "max", "field": "dens", "as": "mx"}]}, {"calculate": "datum.g - 0.45 * datum.dens / datum.mx", "as": "xl"}, {"calculate": "datum.g + 0.45 * datum.dens / datum.mx", "as": "xr"}],
     "mark": {"type": "area", "orient": "horizontal", "fill": "#FFFFFF", "fillOpacity": 0.35, "stroke": "#333333", "strokeWidth": 1.8},
     "encoding": {
      "y": {"field": "dv", "type": "quantitative", "scale": {"domain": [-5, 105], "nice": false, "zero": false},
            "axis": {"title": "% cover", "values": [0,12.5,25,37.5,50,62.5,75,87.5,100], "labelExpr": "indexof([12.5,37.5,62.5,87.5], datum.value) >= 0 ? '' : datum.label", "grid": true, "gridWidth": {"condition": {"test": "indexof([12.5,37.5,62.5,87.5], datum.value) >= 0", "value": 1.3}, "value": 2.6}, "tickOpacity": {"condition": {"test": "indexof([12.5,37.5,62.5,87.5], datum.value) >= 0", "value": 0}, "value": 1}}},
      "x": {"field": "xl", "type": "quantitative", "scale": {"domain": [0.4, 4.6], "nice": false, "zero": false}, "axis": null},
      "x2": {"field": "xr"},
      "detail": {"field": "g", "type": "nominal"}}},
    {"transform": [{"filter": "isValid(datum.v)"}, {"window": [{"op": "row_number", "as": "k"}], "groupby": ["g"]}],
     "mark": {"type": "circle", "size": 64, "opacity": 1, "fill": "#000000", "fillOpacity": 0.45, "stroke": "#000000", "strokeOpacity": 0.45, "strokeWidth": 0.8},
     "encoding": {
      "x": {"field": "g", "type": "nominal", "scale": {"paddingInner": 0, "paddingOuter": 0.1},
            "axis": {"title": null, "labelExpr": "['','Control (pre-salvage)','Pre-salvage','Control (post-salvage)','Post-salvage'][datum.value]", "labelAngle": 0, "labelLimit": 400, "labelOverlap": false, "labelPadding": 4, "grid": true, "gridWidth": 2.6, "bandPosition": 0.5, "tickExtra": false}},
      "xOffset": {"field": "k", "type": "quantitative", "scale": {"domain": [-264.5, 345.5], "nice": false, "zero": false}},
      "y": {"field": "v", "type": "quantitative", "scale": {"domain": [-5, 105], "nice": false, "zero": false}}}},
    {"transform": [{"filter": "isValid(datum.m)"}],
     "mark": {"type": "tick", "color": "#000000", "opacity": 1, "thickness": 5.5, "size": 180.6},
     "encoding": {
      "x": {"field": "g", "type": "nominal", "scale": {"paddingInner": 0, "paddingOuter": 0.1}, "axis": null},
      "y": {"field": "m", "type": "quantitative", "scale": {"domain": [-5, 105], "nice": false, "zero": false}}}}
   ]},
  {"data": {"name": "d2"}, "title": {"text": "Herbaceous vegetation cover (Rim Fire)", "anchor": "middle", "frame": "group"},
   "width": 871, "height": 467, "resolve": {"scale": {"x": "independent"}},
   "layer": [
    {"transform": [{"filter": "isValid(datum.v)"}, {"joinaggregate": [{"op": "min", "field": "v", "as": "lo"}, {"op": "max", "field": "v", "as": "hi"}], "groupby": ["g"]}, {"density": "v", "groupby": ["g", "lo", "hi"], "steps": 200, "as": ["dv", "dens"]}, {"filter": "datum.dv >= datum.lo && datum.dv <= datum.hi"}, {"joinaggregate": [{"op": "max", "field": "dens", "as": "mx"}]}, {"calculate": "datum.g - 0.45 * datum.dens / datum.mx", "as": "xl"}, {"calculate": "datum.g + 0.45 * datum.dens / datum.mx", "as": "xr"}],
     "mark": {"type": "area", "orient": "horizontal", "fill": "#FFFFFF", "fillOpacity": 0.35, "stroke": "#333333", "strokeWidth": 1.8},
     "encoding": {
      "y": {"field": "dv", "type": "quantitative", "scale": {"domain": [-5, 105], "nice": false, "zero": false},
            "axis": {"title": "% cover", "values": [0,12.5,25,37.5,50,62.5,75,87.5,100], "labelExpr": "indexof([12.5,37.5,62.5,87.5], datum.value) >= 0 ? '' : datum.label", "grid": true, "gridWidth": {"condition": {"test": "indexof([12.5,37.5,62.5,87.5], datum.value) >= 0", "value": 1.3}, "value": 2.6}, "tickOpacity": {"condition": {"test": "indexof([12.5,37.5,62.5,87.5], datum.value) >= 0", "value": 0}, "value": 1}}},
      "x": {"field": "xl", "type": "quantitative", "scale": {"domain": [0.4, 4.6], "nice": false, "zero": false}, "axis": null},
      "x2": {"field": "xr"},
      "detail": {"field": "g", "type": "nominal"}}},
    {"transform": [{"filter": "isValid(datum.v)"}, {"window": [{"op": "row_number", "as": "k"}], "groupby": ["g"]}],
     "mark": {"type": "circle", "size": 64, "opacity": 1, "fill": "#000000", "fillOpacity": 0.45, "stroke": "#000000", "strokeOpacity": 0.45, "strokeWidth": 0.8},
     "encoding": {
      "x": {"field": "g", "type": "nominal", "scale": {"paddingInner": 0, "paddingOuter": 0.1},
            "axis": {"title": null, "labelExpr": "['','Control (pre-salvage)','Pre-salvage','Control (post-salvage)','Post-salvage'][datum.value]", "labelAngle": 0, "labelLimit": 400, "labelOverlap": false, "labelPadding": 4, "grid": true, "gridWidth": 2.6, "bandPosition": 0.5, "tickExtra": false}},
      "xOffset": {"field": "k", "type": "quantitative", "scale": {"domain": [-274.6, 355.6], "nice": false, "zero": false}},
      "y": {"field": "v", "type": "quantitative", "scale": {"domain": [-5, 105], "nice": false, "zero": false}}}},
    {"transform": [{"filter": "isValid(datum.m)"}],
     "mark": {"type": "tick", "color": "#000000", "opacity": 1, "thickness": 5.5, "size": 186.7},
     "encoding": {
      "x": {"field": "g", "type": "nominal", "scale": {"paddingInner": 0, "paddingOuter": 0.1}, "axis": null},
      "y": {"field": "m", "type": "quantitative", "scale": {"domain": [-5, 105], "nice": false, "zero": false}}}}
   ]}
 ]}
]
}
